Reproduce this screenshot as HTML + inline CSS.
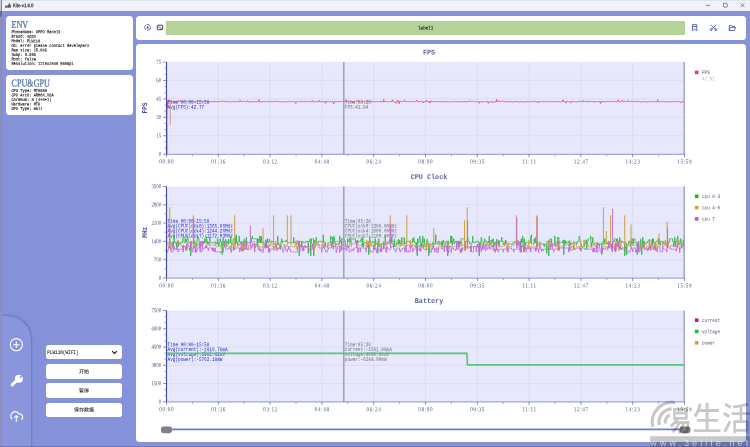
<!DOCTYPE html>
<html lang="zh-CN">
<head>
<meta charset="utf-8">
<title>Kite-v1.6.0</title>
<style>
html,body{margin:0;padding:0;}
body{width:750px;height:447px;overflow:hidden;background:#8591d8;position:relative;font-family:"Liberation Mono","Noto Sans CJK SC",monospace;}
.abs{position:absolute;}
#titlebar{left:0;top:0;width:750px;height:11px;background:#eff3f9;}
#titlebar .edge{left:0;top:0;width:750px;height:1.2px;background:#dfe3ea;}
.card{background:#fff;border-radius:3.5px;}
#env{left:5.8px;top:16px;width:126.9px;height:54.1px;}
#cpu{left:5.8px;top:74.7px;width:126.9px;height:40.4px;}
#toolbar{left:136.2px;top:16px;width:609.9px;height:23.8px;}
#main{left:136.2px;top:44.1px;width:609.9px;height:397.9px;}
#labelbar{left:166.3px;top:21px;width:518.4px;height:13.9px;background:#b3d398;}
#nav{left:-2px;top:315.8px;width:33.4px;height:140px;background:#8a96dc;border-top-right-radius:24px;box-shadow:0.3px -0.3px 1.8px rgba(60,70,165,0.34);}
#leftedge{left:0;top:0;width:1.6px;height:447px;background:linear-gradient(#cfd1da 0,#c4c6d0 11px,#6a6c96 11px,#6a6c96 16px,#8d8fba 17px,#8d8fba 100%);}
.btn{left:45.8px;width:76.5px;height:14.5px;background:#fff;border-radius:2.8px;}
#dev{height:14.2px;}
#botedge{left:0;top:446.2px;width:750px;height:0.8px;background:rgba(70,75,140,0.35);}
svg{position:absolute;left:0;top:0;}
</style>
</head>
<body>
<div id="titlebar" class="abs"><div class="edge abs"></div></div>
<div id="env" class="card abs"></div>
<div id="cpu" class="card abs"></div>
<div id="nav" class="abs"></div>
<div id="leftedge" class="abs"></div>
<div id="botedge" class="abs"></div>
<div id="dev" class="btn abs" style="top:345.1px"></div>
<div class="btn abs" style="top:364.2px"></div>
<div class="btn abs" style="top:383.4px"></div>
<div class="btn abs" style="top:402.5px"></div>
<div id="toolbar" class="card abs"></div>
<div id="labelbar" class="abs"></div>
<div id="main" class="card abs"></div>
<svg id="overlay" width="750" height="447" viewBox="0 0 750 447" font-family="Liberation Mono, Noto Sans CJK SC, monospace">
<!-- title bar -->
<g id="appicon"><path d="M7.4 7.2 L9.5 2.4 L11.2 7.2 Z" fill="#5c4c22"/><path d="M8.3 5 L9.5 2.6 L10.4 5 Z" fill="#a08a4a"/><path d="M4.9 7.6 L5.6 5.6 L7.4 5.2 L8 6.4 L10.8 6.8 L10.6 7.8 Z" fill="#2f86b4"/><path d="M5 7.4 L5.6 6 L6.8 5.8 L6.6 7.2 Z" fill="#1f5a90"/></g>
<rect x="1.1" y="0" width="0.8" height="11" fill="#6e6e7c"/>
<g stroke="#333" stroke-width="0.55" fill="none"><line x1="706" y1="5.4" x2="710" y2="5.4"/><rect x="723.4" y="3.3" width="3.8" height="3.8" rx="0.6"/><path d="M740.6 3.4 L744.4 7.2 M744.4 3.4 L740.6 7.2"/></g>
<!-- toolbar icons -->
<g fill="none" stroke="#5a62c4" stroke-width="0.95"><circle cx="147.6" cy="27.4" r="2.95" stroke-dasharray="5.2 0.98"/><path d="M146.7 28.3 L147.7 26.2 L148.7 28.3 Z" fill="#2c3488" stroke="#2c3488" stroke-width="0.3"/></g>
<g fill="none" stroke="#3a3a3a" stroke-width="0.95"><rect x="157.3" y="25.2" width="5.4" height="4.5" rx="0.6"/><path d="M158.3 27.2 L159.6 27.2 L162 29.2" stroke-width="0.8"/></g>
<g fill="none" stroke="#4a56a8" stroke-width="0.85" stroke-linejoin="round"><path d="M692.4 24.6 H696.8 V30.6 L694.6 29.1 L692.4 30.6 Z M692.4 26.5 H696.8"/>
<path d="M710.6 24.8 L715.6 29.4 M716.4 24.8 L711.4 29.4"/><circle cx="711.2" cy="29.6" r="1"/><circle cx="715.8" cy="29.6" r="1"/>
<path d="M729.2 25.5 H731.2 L731.9 26.4 H734.6 V27.4 M729.2 25.5 V30.5 H734.4 L735.6 27.4 H730.4 L729.2 30.5"/></g>
<!-- nav icons -->
<g fill="none" stroke="#fff" stroke-width="1.1" stroke-linecap="round"><circle cx="16.3" cy="344.7" r="6.1"/><path d="M13.5 344.7 H19.1 M16.3 341.9 V347.5"/></g>
<g id="wrench"><path d="M12.2 384.9 L17.4 379.8" stroke="#fff" stroke-width="3.1" stroke-linecap="round" fill="none"/><circle cx="18.9" cy="378.7" r="4" fill="#fff"/><path d="M19.9 377.7 L22.4 375.2" stroke="#8a96dc" stroke-width="1.5" fill="none"/></g>
<g fill="none" stroke="#fff" stroke-width="1.1" stroke-linecap="round" stroke-linejoin="round"><path d="M11.8 418.9 A4.4 4.4 0 1 1 19 413.9 A3.1 3.1 0 0 1 21.4 419.4"/><path d="M16.3 421.5 V415.7 M14.5 417.4 L16.3 415.6 L18.1 417.4"/></g>
<path d="M112.4 351.4 L114.5 353.5 L116.6 351.4" fill="none" stroke="#2a2a2a" stroke-width="1.2" stroke-linecap="round" stroke-linejoin="round"/>
<g id="uitext">
<text transform="translate(12.9,7.35) rotate(0.05) scale(0.865,1.04)" font-size="5" fill="#0c0c0c" font-family="Liberation Sans, Noto Sans CJK SC, sans-serif" stroke="#0c0c0c" stroke-width="0.14">Kite-v1.6.0</text>
<text transform="translate(11.5,27.9) rotate(0.05) scale(0.77,1)" font-size="10.6" fill="#456aa6" font-family="Liberation Serif, Noto Serif CJK SC, serif" stroke="#456aa6" stroke-width="0.2">ENV</text>
<text transform="translate(11.4,33.3) rotate(0.05) scale(1,1.2)" font-size="3.72" fill="#0a0a0a" stroke="#0a0a0a" stroke-width="0.09">PhoneName: OPPO Reno13</text>
<text transform="translate(11.4,37.83) rotate(0.05) scale(1,1.2)" font-size="3.72" fill="#0a0a0a" stroke="#0a0a0a" stroke-width="0.09">Brand: oppo</text>
<text transform="translate(11.4,42.36) rotate(0.05) scale(1,1.2)" font-size="3.72" fill="#0a0a0a" stroke="#0a0a0a" stroke-width="0.09">Model: PLW110</text>
<text transform="translate(11.4,46.89) rotate(0.05) scale(1,1.2)" font-size="3.72" fill="#0a0a0a" stroke="#0a0a0a" stroke-width="0.09">OS: error please contact developers</text>
<text transform="translate(11.4,51.42) rotate(0.05) scale(1,1.2)" font-size="3.72" fill="#0a0a0a" stroke="#0a0a0a" stroke-width="0.09">Ram size: 15.04G</text>
<text transform="translate(11.4,55.95) rotate(0.05) scale(1,1.2)" font-size="3.72" fill="#0a0a0a" stroke="#0a0a0a" stroke-width="0.09">Swap: 9.96G</text>
<text transform="translate(11.4,60.48) rotate(0.05) scale(1,1.2)" font-size="3.72" fill="#0a0a0a" stroke="#0a0a0a" stroke-width="0.09">Root: false</text>
<text transform="translate(11.4,65.01) rotate(0.05) scale(1,1.2)" font-size="3.72" fill="#0a0a0a" stroke="#0a0a0a" stroke-width="0.09">Resolution: 1216x2640 560dpi</text>
<text transform="translate(11.5,86.6) rotate(0.05) scale(0.77,1)" font-size="10.6" fill="#456aa6" font-family="Liberation Serif, Noto Serif CJK SC, serif" stroke="#456aa6" stroke-width="0.2">CPU&amp;GPU</text>
<text transform="translate(11.4,91.9) rotate(0.05) scale(1,1.2)" font-size="3.72" fill="#0a0a0a" stroke="#0a0a0a" stroke-width="0.09">CPU Type: MT6899</text>
<text transform="translate(11.4,96.43) rotate(0.05) scale(1,1.2)" font-size="3.72" fill="#0a0a0a" stroke="#0a0a0a" stroke-width="0.09">CPU Arch: ARM64_V8A</text>
<text transform="translate(11.4,100.96) rotate(0.05) scale(1,1.2)" font-size="3.72" fill="#0a0a0a" stroke="#0a0a0a" stroke-width="0.09">CoreNum: 8 (4+3+1)</text>
<text transform="translate(11.4,105.49) rotate(0.05) scale(1,1.2)" font-size="3.72" fill="#0a0a0a" stroke="#0a0a0a" stroke-width="0.09">Hardware: MTK</text>
<text transform="translate(11.4,110.02) rotate(0.05) scale(1,1.2)" font-size="3.72" fill="#0a0a0a" stroke="#0a0a0a" stroke-width="0.09">GPU Type: mali</text>
<text transform="translate(425.7,29.6) rotate(0.05) scale(1,1.2)" font-size="4.3" fill="#1a1a1a" text-anchor="middle" stroke="#1a1a1a" stroke-width="0.12">label1</text>
<text transform="translate(47.2,354.1) rotate(0.05) scale(1,1.25)" font-size="4.36" fill="#222" stroke="#222" stroke-width="0.08">PLW110(WIFI)</text>
<text transform="translate(84.1,373.3) rotate(0.05) scale(1,1)" font-size="5.0" fill="#1c1c1c" text-anchor="middle" font-weight="500" font-family="Liberation Sans, Noto Sans CJK SC, sans-serif">开始</text>
<text transform="translate(84.1,392.5) rotate(0.05) scale(1,1)" font-size="5.0" fill="#1c1c1c" text-anchor="middle" font-weight="500" font-family="Liberation Sans, Noto Sans CJK SC, sans-serif">暂停</text>
<text transform="translate(84.1,411.6) rotate(0.05) scale(1,1)" font-size="5.0" fill="#1c1c1c" text-anchor="middle" font-weight="500" font-family="Liberation Sans, Noto Sans CJK SC, sans-serif">保存数据</text>
</g>
<g id="charts">
<rect x="166.5" y="62.0" width="518.0" height="92.2" fill="#e7e8fc"/>
<line x1="218.3" y1="62.0" x2="218.3" y2="154.2" stroke="#d3d5ec" stroke-width="0.6"/>
<line x1="270.1" y1="62.0" x2="270.1" y2="154.2" stroke="#d3d5ec" stroke-width="0.6"/>
<line x1="321.9" y1="62.0" x2="321.9" y2="154.2" stroke="#d3d5ec" stroke-width="0.6"/>
<line x1="373.7" y1="62.0" x2="373.7" y2="154.2" stroke="#d3d5ec" stroke-width="0.6"/>
<line x1="425.5" y1="62.0" x2="425.5" y2="154.2" stroke="#d3d5ec" stroke-width="0.6"/>
<line x1="477.3" y1="62.0" x2="477.3" y2="154.2" stroke="#d3d5ec" stroke-width="0.6"/>
<line x1="529.1" y1="62.0" x2="529.1" y2="154.2" stroke="#d3d5ec" stroke-width="0.6"/>
<line x1="580.9" y1="62.0" x2="580.9" y2="154.2" stroke="#d3d5ec" stroke-width="0.6"/>
<line x1="632.7" y1="62.0" x2="632.7" y2="154.2" stroke="#d3d5ec" stroke-width="0.6"/>
<line x1="166.5" y1="80.44" x2="684.5" y2="80.44" stroke="#d3d5ec" stroke-width="0.6"/>
<line x1="166.5" y1="98.88" x2="684.5" y2="98.88" stroke="#d3d5ec" stroke-width="0.6"/>
<line x1="166.5" y1="117.32" x2="684.5" y2="117.32" stroke="#d3d5ec" stroke-width="0.6"/>
<line x1="166.5" y1="135.76" x2="684.5" y2="135.76" stroke="#d3d5ec" stroke-width="0.6"/>
<rect x="166.5" y="186.5" width="518.0" height="91.5" fill="#e7e8fc"/>
<line x1="218.3" y1="186.5" x2="218.3" y2="278.0" stroke="#d3d5ec" stroke-width="0.6"/>
<line x1="270.1" y1="186.5" x2="270.1" y2="278.0" stroke="#d3d5ec" stroke-width="0.6"/>
<line x1="321.9" y1="186.5" x2="321.9" y2="278.0" stroke="#d3d5ec" stroke-width="0.6"/>
<line x1="373.7" y1="186.5" x2="373.7" y2="278.0" stroke="#d3d5ec" stroke-width="0.6"/>
<line x1="425.5" y1="186.5" x2="425.5" y2="278.0" stroke="#d3d5ec" stroke-width="0.6"/>
<line x1="477.3" y1="186.5" x2="477.3" y2="278.0" stroke="#d3d5ec" stroke-width="0.6"/>
<line x1="529.1" y1="186.5" x2="529.1" y2="278.0" stroke="#d3d5ec" stroke-width="0.6"/>
<line x1="580.9" y1="186.5" x2="580.9" y2="278.0" stroke="#d3d5ec" stroke-width="0.6"/>
<line x1="632.7" y1="186.5" x2="632.7" y2="278.0" stroke="#d3d5ec" stroke-width="0.6"/>
<line x1="166.5" y1="204.8" x2="684.5" y2="204.8" stroke="#d3d5ec" stroke-width="0.6"/>
<line x1="166.5" y1="223.1" x2="684.5" y2="223.1" stroke="#d3d5ec" stroke-width="0.6"/>
<line x1="166.5" y1="241.4" x2="684.5" y2="241.4" stroke="#d3d5ec" stroke-width="0.6"/>
<line x1="166.5" y1="259.7" x2="684.5" y2="259.7" stroke="#d3d5ec" stroke-width="0.6"/>
<rect x="166.5" y="310.5" width="518.0" height="91.3" fill="#e7e8fc"/>
<line x1="218.3" y1="310.5" x2="218.3" y2="401.8" stroke="#d3d5ec" stroke-width="0.6"/>
<line x1="270.1" y1="310.5" x2="270.1" y2="401.8" stroke="#d3d5ec" stroke-width="0.6"/>
<line x1="321.9" y1="310.5" x2="321.9" y2="401.8" stroke="#d3d5ec" stroke-width="0.6"/>
<line x1="373.7" y1="310.5" x2="373.7" y2="401.8" stroke="#d3d5ec" stroke-width="0.6"/>
<line x1="425.5" y1="310.5" x2="425.5" y2="401.8" stroke="#d3d5ec" stroke-width="0.6"/>
<line x1="477.3" y1="310.5" x2="477.3" y2="401.8" stroke="#d3d5ec" stroke-width="0.6"/>
<line x1="529.1" y1="310.5" x2="529.1" y2="401.8" stroke="#d3d5ec" stroke-width="0.6"/>
<line x1="580.9" y1="310.5" x2="580.9" y2="401.8" stroke="#d3d5ec" stroke-width="0.6"/>
<line x1="632.7" y1="310.5" x2="632.7" y2="401.8" stroke="#d3d5ec" stroke-width="0.6"/>
<line x1="166.5" y1="328.76" x2="684.5" y2="328.76" stroke="#d3d5ec" stroke-width="0.6"/>
<line x1="166.5" y1="347.02" x2="684.5" y2="347.02" stroke="#d3d5ec" stroke-width="0.6"/>
<line x1="166.5" y1="365.28" x2="684.5" y2="365.28" stroke="#d3d5ec" stroke-width="0.6"/>
<line x1="166.5" y1="383.54" x2="684.5" y2="383.54" stroke="#d3d5ec" stroke-width="0.6"/>
<text transform="translate(167.6,103.7) rotate(0.05) scale(1,1.27)" font-size="4.35" fill="#2a2ad0">Time 00:00-15:58</text>
<text transform="translate(167.6,108.8) rotate(0.05) scale(1,1.27)" font-size="4.35" fill="#2a2ad0">Avg(FPS):42.77</text>
<text transform="translate(344.8,103.7) rotate(0.05) scale(1,1.27)" font-size="4.35" fill="#707078">Time:05:28</text>
<text transform="translate(344.8,108.8) rotate(0.05) scale(1,1.27)" font-size="4.35" fill="#707078">FPS:41.94</text>
<text transform="translate(167.6,222.7) rotate(0.05) scale(1,1.27)" font-size="4.35" fill="#2a2ad0">Time 00:00-15:58</text>
<text transform="translate(167.6,227.6) rotate(0.05) scale(1,1.27)" font-size="4.35" fill="#2a2ad0">Avg(CPUClock0):1365.66MHz</text>
<text transform="translate(167.6,232.5) rotate(0.05) scale(1,1.27)" font-size="4.35" fill="#2a2ad0">Avg(CPUClock4):1244.26MHz</text>
<text transform="translate(167.6,237.4) rotate(0.05) scale(1,1.27)" font-size="4.35" fill="#2a2ad0">Avg(CPUClock7):1172.03MHz</text>
<text transform="translate(344.8,222.7) rotate(0.05) scale(1,1.27)" font-size="4.35" fill="#707078">Time:05:28</text>
<text transform="translate(344.8,227.6) rotate(0.05) scale(1,1.27)" font-size="4.35" fill="#707078">CPUClock0:1300.00MHz</text>
<text transform="translate(344.8,232.5) rotate(0.05) scale(1,1.27)" font-size="4.35" fill="#707078">CPUClock4:1000.00MHz</text>
<text transform="translate(344.8,237.4) rotate(0.05) scale(1,1.27)" font-size="4.35" fill="#707078">CPUClock7:1100.00MHz</text>
<text transform="translate(167.6,346.2) rotate(0.05) scale(1,1.27)" font-size="4.35" fill="#2a2ad0">Time 00:00-15:58</text>
<text transform="translate(167.6,351.1) rotate(0.05) scale(1,1.27)" font-size="4.35" fill="#2a2ad0">Avg(current):-1616.76mA</text>
<text transform="translate(167.6,356) rotate(0.05) scale(1,1.27)" font-size="4.35" fill="#2a2ad0">Avg(voltage):3981.42mV</text>
<text transform="translate(167.6,360.9) rotate(0.05) scale(1,1.27)" font-size="4.35" fill="#2a2ad0">Avg(power):-5762.18mW</text>
<text transform="translate(344.8,346.2) rotate(0.05) scale(1,1.27)" font-size="4.35" fill="#707078">Time:05:28</text>
<text transform="translate(344.8,351.1) rotate(0.05) scale(1,1.27)" font-size="4.35" fill="#707078">current:-1561.00mA</text>
<text transform="translate(344.8,356) rotate(0.05) scale(1,1.27)" font-size="4.35" fill="#707078">voltage:4000.00mV</text>
<text transform="translate(344.8,360.9) rotate(0.05) scale(1,1.27)" font-size="4.35" fill="#707078">power:-6244.00mW</text>
<g id="fps">
<polyline points="166.7,154.2 166.7,129.61 167.2,101.34 167.6,107.49 168.1,100.11 168.7,101.96 169.25,101.96 169.8,99.94 170.35,102.26 170.9,101.5 171.45,101.6 172,101.74 172.55,101.56 173.1,101.79 173.65,101.55 174.2,101.64 174.75,101.75 175.3,103.09 175.85,101.11 176.4,101.53 176.95,101.44 177.5,101.77 178.05,101.77 178.6,100.24 179.15,101.7 179.7,101.44 180.25,100.51 180.8,101.79 181.35,101.46 181.9,101.81 182.45,101.62 183,101.4 183.55,101.73 184.1,101.88 184.65,101.52 185.2,101.75 185.75,102.01 186.3,101.63 186.85,101.15 187.4,101.49 187.95,101.77 188.5,101.6 189.05,101.9 189.6,101.46 190.15,101.67 190.7,101.52 191.25,101.47 191.8,101.74 192.35,101.86 192.9,101.69 193.45,101.87 194,101.33 194.55,101.47 195.1,101.66 195.65,101.89 196.2,101.19 196.75,101.05 197.3,101.74 197.85,101.49 198.4,101.26 198.95,101.22 199.5,101.71 200.05,101.58 200.6,101.31 201.15,101.82 201.7,101.25 202.25,101.75 202.8,102.22 203.35,101.54 203.9,101.81 204.45,101.68 205,101.51 205.55,101.36 206.1,101.74 206.65,101.65 207.2,101.71 207.75,101.68 208.3,101.9 208.85,102.09 209.4,101.79 209.95,102.31 210.5,101.46 211.05,101.89 211.6,101.68 212.15,101.43 212.7,101.78 213.25,101.48 213.8,102.16 214.35,101.31 214.9,101.89 215.45,101.57 216,101.47 216.55,101.67 217.1,101.67 217.65,101.54 218.2,102.12 218.75,102.07 219.3,101.76 219.85,101.32 220.4,101.47 220.95,101.65 221.5,101.45 222.05,101.23 222.6,100.89 223.15,101.71 223.7,101.1 224.25,101.19 224.8,101.86 225.35,101.52 225.9,101.52 226.45,101.23 227,101.14 227.55,101.8 228.1,102.31 228.65,101.85 229.2,101.74 229.75,101.33 230.3,101.73 230.85,101.53 231.4,101.94 231.95,101.72 232.5,101.82 233.05,101.62 233.6,101.47 234.15,102 234.7,101.35 235.25,101.81 235.8,101.91 236.35,101.76 236.9,102.07 237.45,101.59 238,101.45 238.55,101.34 239.1,101.65 239.65,101.59 240.2,100.29 240.75,101.71 241.3,101.47 241.85,101.44 242.4,101.63 242.95,101.34 243.5,101.41 244.05,102.01 244.6,101.32 245.15,101.66 245.7,101.61 246.25,101.68 246.8,101.74 247.35,100.67 247.9,101.66 248.45,102.01 249,102.23 249.55,101.48 250.1,101.18 250.65,101.6 251.2,101.75 251.75,102.02 252.3,101.85 252.85,101.47 253.4,101.79 253.95,101.16 254.5,101.74 255.05,101.92 255.6,101.52 256.15,101.73 256.7,101.89 257.25,101.64 257.8,101.61 258.35,101.74 258.9,99.6 259.45,102.03 260,101.67 260.55,101.73 261.1,102.05 261.65,102.17 262.2,101.81 262.75,101.06 263.3,101.78 263.85,101.56 264.4,101.44 264.95,101.48 265.5,102.04 266.05,101.85 266.6,101.86 267.15,101.55 267.7,101.4 268.25,101.74 268.8,101.42 269.35,101.34 269.9,102 270.45,101.77 271,101.66 271.55,101.2 272.1,101.62 272.65,101.39 273.2,101.74 273.75,102.03 274.3,101.53 274.85,101.57 275.4,101.42 275.95,101.86 276.5,101.22 277.05,101.57 277.6,101.26 278.15,101.77 278.7,101.25 279.25,101.71 279.8,101.83 280.35,101.82 280.9,101.84 281.45,101.81 282,101.46 282.55,101.99 283.1,101.45 283.65,101.91 284.2,101.66 284.75,101.92 285.3,101.62 285.85,101.57 286.4,101.65 286.95,101.65 287.5,101.86 288.05,101.84 288.6,101.56 289.15,101.51 289.7,101.53 290.25,101.75 290.8,101.53 291.35,101.46 291.9,101.04 292.45,101.52 293,101.8 293.55,102.02 294.1,101.35 294.65,101.37 295.2,101.67 295.75,103.44 296.3,102.09 296.85,102.05 297.4,101.54 297.95,101.41 298.5,102.1 299.05,101.55 299.6,101.29 300.15,101.55 300.7,101.93 301.25,101.58 301.8,101.14 302.35,101.54 302.9,101.25 303.45,101.81 304,101.39 304.55,101.48 305.1,102.12 305.65,101.64 306.2,102.01 306.75,101.52 307.3,101.5 307.85,101.25 308.4,101.58 308.95,101.03 309.5,101.49 310.05,101.66 310.6,101.85 311.15,101.85 311.7,101.61 312.25,100.31 312.8,100.8 313.35,102.33 313.9,102.11 314.45,101.6 315,101.42 315.55,101.4 316.1,101.43 316.65,102.32 317.2,101.85 317.75,101.64 318.3,101.23 318.85,102.02 319.4,100.36 319.95,101.33 320.5,101.91 321.05,101.78 321.6,101.23 322.15,101.77 322.7,101.55 323.25,101.89 323.8,101.54 324.35,101.46 324.9,101.22 325.45,103.4 326,101.51 326.55,101.9 327.1,101.32 327.65,101.61 328.2,101.75 328.75,101.52 329.3,101.43 329.85,101.67 330.4,101.36 330.95,101.28 331.5,101.79 332.05,101.39 332.6,101.61 333.15,101.57 333.7,103.74 334.25,101.59 334.8,100.94 335.35,101.4 335.9,102.2 336.45,101.58 337,101.68 337.55,101.47 338.1,101.64 338.65,101.85 339.2,101.13 339.75,101.7 340.3,101.77 340.85,101.56 341.4,101.49 341.95,101.61 342.5,101.5 343.05,101.75 343.6,101.87 344.15,102.14 344.7,101.67 345.25,101.62 345.8,101.54 346.35,99.91 346.9,101.99 347.45,101.65 348,101.56 348.55,101.99 349.1,101.5 349.65,101.59 350.2,101.19 350.75,101.59 351.3,101.19 351.85,101.57 352.4,101.39 352.95,102.8 353.5,101.64 354.05,102.05 354.6,101.84 355.15,102.12 355.7,101.56 356.25,101.33 356.8,101.31 357.35,100.34 357.9,101.64 358.45,101.98 359,101.75 359.55,101.43 360.1,101.94 360.65,102.37 361.2,101.78 361.75,101.18 362.3,101.54 362.85,101.68 363.4,101.84 363.95,101.94 364.5,101.91 365.05,101.72 365.6,101.81 366.15,101.76 366.7,101.46 367.25,101.8 367.8,101.74 368.35,101.32 368.9,101.7 369.45,101.53 370,101.05 370.55,101.34 371.1,101.49 371.65,101.57 372.2,101.18 372.75,101.98 373.3,101.64 373.85,101.66 374.4,101.78 374.95,101.42 375.5,101.87 376.05,101.56 376.6,101.38 377.15,101.86 377.7,101.47 378.25,101.83 378.8,101.72 379.35,101.5 379.9,101.63 380.45,101.85 381,100.89 381.55,101.62 382.1,101.38 382.65,101.64 383.2,102.28 383.75,99.64 384.3,101.64 384.85,101.82 385.4,101.32 385.95,101.86 386.5,101.43 387.05,101.47 387.6,101.82 388.15,101.57 388.7,101.67 389.25,101.8 389.8,101.8 390.35,101.58 390.9,101.64 391.45,101.35 392,101.58 392.55,99.86 393.1,101.57 393.65,101.73 394.2,101.63 394.75,101.69 395.3,102.07 395.85,103.32 396.4,101.59 396.95,101.93 397.5,101.88 398.05,100.17 398.6,101.52 399.15,103.76 399.7,101.36 400.25,101.27 400.8,101.46 401.35,101.65 401.9,101.86 402.45,101.6 403,101.5 403.55,101.38 404.1,101.2 404.65,100.06 405.2,101.77 405.75,101.73 406.3,101.58 406.85,101.67 407.4,101.69 407.95,101.2 408.5,101.46 409.05,101.38 409.6,101.54 410.15,101.58 410.7,101.86 411.25,101.42 411.8,101.63 412.35,101.3 412.9,101.66 413.45,101.79 414,101.18 414.55,101.62 415.1,102.01 415.65,101.95 416.2,101.39 416.75,100.17 417.3,101.54 417.85,101.56 418.4,101.7 418.95,101.29 419.5,102.02 420.05,101.28 420.6,101.7 421.15,101.72 421.7,101.38 422.25,101.46 422.8,101.9 423.35,103.02 423.9,101.22 424.45,101.53 425,101.82 425.55,101.47 426.1,101.56 426.65,100.17 427.2,101.79 427.75,101.79 428.3,102.18 428.85,101.43 429.4,101.23 429.95,103.17 430.5,101.96 431.05,100.81 431.6,101.71 432.15,102.01 432.7,101.52 433.25,101.69 433.8,101.56 434.35,101.59 434.9,101.31 435.45,101.92 436,101.57 436.55,101.76 437.1,101.65 437.65,101.63 438.2,101.4 438.75,101.82 439.3,101.7 439.85,100.99 440.4,101.71 440.95,101.56 441.5,101.74 442.05,101.78 442.6,101.76 443.15,101.92 443.7,101.52 444.25,101.48 444.8,101.37 445.35,101.85 445.9,101.54 446.45,102.15 447,101.66 447.55,101.39 448.1,101.91 448.65,101.93 449.2,101.62 449.75,101.89 450.3,101.45 450.85,101.94 451.4,101.93 451.95,101.39 452.5,101.85 453.05,101.51 453.6,101.7 454.15,101.92 454.7,101.7 455.25,101.48 455.8,101.39 456.35,101.84 456.9,101.64 457.45,101.58 458,101.39 458.55,101.44 459.1,101.77 459.65,101.62 460.2,101.76 460.75,101.67 461.3,101.85 461.85,101.56 462.4,101.81 462.95,101.56 463.5,101.93 464.05,101.39 464.6,101.52 465.15,101.95 465.7,101.37 466.25,101.76 466.8,101.93 467.35,101.79 467.9,101.66 468.45,101.34 469,101.52 469.55,101.51 470.1,100.9 470.65,101.08 471.2,101.4 471.75,101.49 472.3,101.43 472.85,101.29 473.4,101.65 473.95,101.39 474.5,101.32 475.05,101.33 475.6,101.85 476.15,101.89 476.7,101.69 477.25,101.41 477.8,101.89 478.35,101.51 478.9,101.9 479.45,103.31 480,101.41 480.55,101.96 481.1,101.76 481.65,101.87 482.2,101.74 482.75,102.01 483.3,101.66 483.85,101.65 484.4,101.6 484.95,101.71 485.5,101.51 486.05,101.52 486.6,101.61 487.15,101.14 487.7,101.77 488.25,103.36 488.8,101.66 489.35,101.97 489.9,101.67 490.45,101.91 491,102.03 491.55,101.51 492.1,101.56 492.65,102.86 493.2,101.93 493.75,101.57 494.3,101.71 494.85,101.65 495.4,102.01 495.95,102.01 496.5,99.47 497.05,101.95 497.6,101.42 498.15,101.55 498.7,100.44 499.25,101.54 499.8,101.46 500.35,101.84 500.9,101.78 501.45,101.53 502,101.23 502.55,101.1 503.1,101.52 503.65,101.25 504.2,101.48 504.75,101.54 505.3,101.39 505.85,102.16 506.4,101.69 506.95,102.08 507.5,101.76 508.05,102.18 508.6,101.49 509.15,101.68 509.7,102.1 510.25,101.44 510.8,102.05 511.35,101.76 511.9,101.74 512.45,101.93 513,101.73 513.55,102.2 514.1,101.21 514.65,101.68 515.2,101.68 515.75,101.3 516.3,101.37 516.85,101.7 517.4,101.6 517.95,101.65 518.5,102.11 519.05,101.69 519.6,101.78 520.15,101.84 520.7,101.53 521.25,101.42 521.8,101.97 522.35,101.99 522.9,101.6 523.45,102.19 524,102.2 524.55,101.6 525.1,101.98 525.65,101.47 526.2,102.2 526.75,101.7 527.3,101.41 527.85,101.53 528.4,101.85 528.95,101.85 529.5,101.72 530.05,101.55 530.6,101.72 531.15,101.64 531.7,101.32 532.25,101.8 532.8,102.2 533.35,101.5 533.9,101.38 534.45,101.47 535,101.5 535.55,101.23 536.1,101.43 536.65,101.55 537.2,102.21 537.75,103.05 538.3,101.52 538.85,101.61 539.4,101.54 539.95,101.6 540.5,101.69 541.05,101.71 541.6,101.85 542.15,101.28 542.7,101.44 543.25,101.96 543.8,101.88 544.35,101.61 544.9,101.45 545.45,101.82 546,101.4 546.55,101.74 547.1,101.34 547.65,101.32 548.2,101.68 548.75,101.48 549.3,101.82 549.85,101.53 550.4,101.87 550.95,101.84 551.5,101.48 552.05,102.01 552.6,101.93 553.15,101.8 553.7,101.73 554.25,101.42 554.8,101.57 555.35,101.68 555.9,101.73 556.45,101.66 557,101.6 557.55,101.83 558.1,101.52 558.65,101.52 559.2,101.64 559.75,101.55 560.3,101.68 560.85,102.25 561.4,101.65 561.95,101.48 562.5,101.45 563.05,99.82 563.6,101.64 564.15,101.56 564.7,101.47 565.25,101.71 565.8,103.16 566.35,101.61 566.9,101.64 567.45,101.39 568,101.41 568.55,102.03 569.1,101.83 569.65,101.5 570.2,101.59 570.75,103.07 571.3,101.42 571.85,101.64 572.4,101.83 572.95,101.95 573.5,101.48 574.05,101.06 574.6,101.77 575.15,102.07 575.7,101.93 576.25,101.95 576.8,101.98 577.35,101.57 577.9,101.82 578.45,101.39 579,101.76 579.55,101.32 580.1,101.73 580.65,101.44 581.2,101.74 581.75,101.76 582.3,101.6 582.85,100.37 583.4,101.82 583.95,101.7 584.5,101.55 585.05,101.84 585.6,101.49 586.15,101.51 586.7,101.55 587.25,101.89 587.8,102.24 588.35,101.18 588.9,101.01 589.45,101.7 590,101.94 590.55,101.43 591.1,101.66 591.65,101.33 592.2,101.5 592.75,102.03 593.3,101.4 593.85,102.12 594.4,101.56 594.95,102.03 595.5,101.91 596.05,101.49 596.6,101.53 597.15,101.93 597.7,101.63 598.25,101.45 598.8,101.56 599.35,101.54 599.9,101.67 600.45,103.61 601,101.48 601.55,102.13 602.1,101.09 602.65,101.98 603.2,101.6 603.75,101.98 604.3,101.36 604.85,101.97 605.4,102.04 605.95,101.63 606.5,101.42 607.05,101.71 607.6,101.42 608.15,101.07 608.7,101.57 609.25,101.83 609.8,101.4 610.35,101.83 610.9,101.65 611.45,101.64 612,101.83 612.55,101.22 613.1,101.65 613.65,101.42 614.2,101.4 614.75,101.42 615.3,101.62 615.85,101.77 616.4,102.18 616.95,101.79 617.5,101.09 618.05,99.69 618.6,101.91 619.15,101.69 619.7,101.78 620.25,101.33 620.8,101.82 621.35,101.83 621.9,101.7 622.45,100.07 623,101.36 623.55,101.74 624.1,101.64 624.65,101.36 625.2,101.27 625.75,101.65 626.3,101.8 626.85,101.94 627.4,101.51 627.95,100.31 628.5,101.62 629.05,101.41 629.6,101.46 630.15,101.89 630.7,101.37 631.25,101.87 631.8,101.1 632.35,101.48 632.9,101.38 633.45,101.56 634,101.6 634.55,101.45 635.1,101.52 635.65,101.38 636.2,102.12 636.75,101.62 637.3,101.44 637.85,101.88 638.4,101.41 638.95,101.68 639.5,101.25 640.05,101.82 640.6,101.98 641.15,102.14 641.7,101.79 642.25,101.44 642.8,101.91 643.35,101.67 643.9,101.3 644.45,101.76 645,101.1 645.55,101.54 646.1,101.68 646.65,102.1 647.2,101.7 647.75,101.93 648.3,101.59 648.85,101.6 649.4,101.81 649.95,101.42 650.5,101.81 651.05,101.64 651.6,101.36 652.15,101.56 652.7,101.79 653.25,101.47 653.8,101.96 654.35,101.65 654.9,101.37 655.45,101.74 656,101.91 656.55,101.9 657.1,101.55 657.65,99.71 658.2,101.58 658.75,102.17 659.3,101.26 659.85,101.79 660.4,102.04 660.95,101.71 661.5,101.41 662.05,101.67 662.6,101.77 663.15,101.55 663.7,101.37 664.25,101.65 664.8,101.67 665.35,101.58 665.9,102.01 666.45,101.94 667,101.61 667.55,101.75 668.1,101.72 668.65,101.75 669.2,101.59 669.75,101.7 670.3,101.76 670.85,101.82 671.4,101.56 671.95,102.02 672.5,101.73 673.05,101.95 673.6,101.72 674.15,101.27 674.7,101.52 675.25,101.6 675.8,101.4 676.35,101.8 676.9,101.38 677.45,101.45 678,101.82 678.55,101.96 679.1,101.78 679.65,101.64 680.2,101.91 680.75,102.96 681.3,101.82 681.85,101.53 682.4,101.49 682.95,101.61 683.5,101.82 684.05,101.91" fill="none" stroke="#e03a58" stroke-width="0.72"/>
<line x1="170.3" y1="101.95" x2="170.3" y2="124.7" stroke="#e25a78" stroke-width="0.8" stroke-opacity="0.85"/>
<line x1="166.8" y1="124.7" x2="166.8" y2="154.2" stroke="#8a3aa0" stroke-width="0.7"/>
</g>
<g id="cpu" stroke-linejoin="miter">
<polyline points="166.5,242.71 167,242.71 167.5,242.71 168,242.71 168.5,242.71 169,242.71 169.5,242.71 170,242.71 170.5,242.71 171,242.71 171.5,242.71 172,242.71 172.5,242.71 172.5,246.63 173,246.63 173,242.71 173.5,242.71 174,242.71 174,236.17 174.5,236.17 174.5,242.71 175,242.71 175.5,242.71 176,242.71 176,245.32 176.5,245.32 176.5,242.71 177,242.71 177,241.4 177.5,241.4 177.5,246.63 178,246.63 178.5,246.63 178.5,242.71 179,242.71 179.5,242.71 179.5,244.01 180,244.01 180,242.71 180.5,242.71 181,242.71 181.5,242.71 182,242.71 182.5,242.71 182.5,239.31 183,239.31 183,237.48 183.5,237.48 183.5,236.17 184,236.17 184,242.71 184.5,242.71 185,242.71 185.5,242.71 185.5,238.79 186,238.79 186,241.4 186.5,241.4 186.5,239.31 187,239.31 187.5,239.31 187.5,236.17 188,236.17 188,242.71 188.5,242.71 189,242.71 189.5,242.71 190,242.71 190.5,242.71 190.5,255.78 191,255.78 191,242.71 191.5,242.71 192,242.71 192.5,242.71 193,242.71 193.5,242.71 193.5,240.09 194,240.09 194,242.71 194.5,242.71 195,242.71 195,244.01 195.5,244.01 196,244.01 196.5,244.01 196.5,246.63 197,246.63 197,238.79 197.5,238.79 197.5,236.17 198,236.17 198,238.79 198.5,238.79 199,238.79 199,242.71 199.5,242.71 199.5,246.63 200,246.63 200.5,246.63 200.5,244.01 201,244.01 201.5,244.01 202,244.01 202.5,244.01 203,244.01 203.5,244.01 203.5,241.4 204,241.4 204,242.71 204.5,242.71 204.5,238.79 205,238.79 205,242.71 205.5,242.71 205.5,241.4 206,241.4 206,236.17 206.5,236.17 206.5,239.31 207,239.31 207,244.01 207.5,244.01 207.5,241.4 208,241.4 208,244.01 208.5,244.01 208.5,242.71 209,242.71 209.5,242.71 209.5,237.48 210,237.48 210,242.71 210.5,242.71 211,242.71 211.5,242.71 212,242.71 212.5,242.71 213,242.71 213.5,242.71 214,242.71 214.5,242.71 215,242.71 215.5,242.71 216,242.71 216.5,242.71 216.5,244.01 217,244.01 217.5,244.01 217.5,238.79 218,238.79 218,242.71 218.5,242.71 218.5,246.63 219,246.63 219,244.01 219.5,244.01 219.5,242.71 220,242.71 220,238.79 220.5,238.79 220.5,241.4 221,241.4 221.5,241.4 221.5,246.63 222,246.63 222,254.47 222.5,254.47 222.5,242.71 223,242.71 223,237.48 223.5,237.48 223.5,241.4 224,241.4 224,245.32 224.5,245.32 224.5,241.4 225,241.4 225.5,241.4 225.5,239.31 226,239.31 226,246.63 226.5,246.63 226.5,241.4 227,241.4 227.5,241.4 227.5,242.71 228,242.71 228,244.01 228.5,244.01 228.5,239.31 229,239.31 229,242.71 229.5,242.71 230,242.71 230.5,242.71 230.5,236.17 231,236.17 231,242.71 231.5,242.71 231.5,244.01 232,244.01 232.5,244.01 233,244.01 233,239.31 233.5,239.31 233.5,238.79 234,238.79 234.5,238.79 235,238.79 235,237.48 235.5,237.48 235.5,244.01 236,244.01 236,234.86 236.5,234.86 236.5,242.71 237,242.71 237.5,242.71 237.5,245.32 238,245.32 238,241.4 238.5,241.4 239,241.4 239,236.17 239.5,236.17 239.5,241.4 240,241.4 240,242.71 240.5,242.71 241,242.71 241.5,242.71 241.5,241.4 242,241.4 242,244.01 242.5,244.01 243,244.01 243.5,244.01 244,244.01 244,239.31 244.5,239.31 244.5,242.71 245,242.71 245.5,242.71 245.5,245.32 246,245.32 246,237.48 246.5,237.48 246.5,242.71 247,242.71 247.5,242.71 248,242.71 248.5,242.71 249,242.71 249.5,242.71 250,242.71 250.5,242.71 251,242.71 251.5,242.71 251.5,238.79 252,238.79 252,236.17 252.5,236.17 252.5,238.79 253,238.79 253.5,238.79 254,238.79 254.5,238.79 255,238.79 255.5,238.79 256,238.79 256.5,238.79 257,238.79 257,246.63 257.5,246.63 257.5,238.79 258,238.79 258.5,238.79 258.5,242.71 259,242.71 259.5,242.71 259.5,236.17 260,236.17 260,237.48 260.5,237.48 260.5,242.71 261,242.71 261,236.17 261.5,236.17 261.5,242.71 262,242.71 262.5,242.71 263,242.71 263.5,242.71 264,242.71 264,246.63 264.5,246.63 265,246.63 265,242.71 265.5,242.71 265.5,240.09 266,240.09 266,246.63 266.5,246.63 266.5,242.71 267,242.71 267,238.79 267.5,238.79 267.5,242.71 268,242.71 268.5,242.71 269,242.71 269,239.31 269.5,239.31 269.5,241.4 270,241.4 270.5,241.4 271,241.4 271.5,241.4 272,241.4 272.5,241.4 273,241.4 273.5,241.4 273.5,244.01 274,244.01 274.5,244.01 275,244.01 275.5,244.01 275.5,246.63 276,246.63 276,244.01 276.5,244.01 277,244.01 277.5,244.01 277.5,236.17 278,236.17 278,244.01 278.5,244.01 279,244.01 279.5,244.01 280,244.01 280,249.24 280.5,249.24 280.5,244.01 281,244.01 281,241.4 281.5,241.4 281.5,238.79 282,238.79 282,242.71 282.5,242.71 282.5,241.4 283,241.4 283.5,241.4 284,241.4 284.5,241.4 285,241.4 285.5,241.4 286,241.4 286,240.09 286.5,240.09 286.5,241.4 287,241.4 287.5,241.4 287.5,242.71 288,242.71 288.5,242.71 289,242.71 289.5,242.71 290,242.71 290.5,242.71 291,242.71 291.5,242.71 292,242.71 292.5,242.71 293,242.71 293.5,242.71 293.5,237.48 294,237.48 294,242.71 294.5,242.71 295,242.71 295.5,242.71 296,242.71 296.5,242.71 297,242.71 297,244.01 297.5,244.01 298,244.01 298.5,244.01 298.5,241.4 299,241.4 299,255.78 299.5,255.78 299.5,241.4 300,241.4 300.5,241.4 301,241.4 301.5,241.4 301.5,246.63 302,246.63 302,241.4 302.5,241.4 303,241.4 303,242.71 303.5,242.71 304,242.71 304.5,242.71 305,242.71 305.5,242.71 305.5,241.4 306,241.4 306.5,241.4 307,241.4 307.5,241.4 308,241.4 308,253.16 308.5,253.16 308.5,241.4 309,241.4 309.5,241.4 310,241.4 310,238.79 310.5,238.79 310.5,255.78 311,255.78 311,242.71 311.5,242.71 311.5,238.79 312,238.79 312.5,238.79 313,238.79 313.5,238.79 313.5,255.78 314,255.78 314,242.71 314.5,242.71 314.5,240.09 315,240.09 315,242.71 315.5,242.71 315.5,241.4 316,241.4 316,237.48 316.5,237.48 316.5,242.71 317,242.71 317.5,242.71 318,242.71 318.5,242.71 318.5,241.4 319,241.4 319.5,241.4 320,241.4 320.5,241.4 321,241.4 321.5,241.4 322,241.4 322,242.71 322.5,242.71 323,242.71 323,234.86 323.5,234.86 323.5,242.71 324,242.71 324.5,242.71 325,242.71 325.5,242.71 325.5,246.63 326,246.63 326.5,246.63 327,246.63 327.5,246.63 328,246.63 328,242.71 328.5,242.71 329,242.71 329.5,242.71 330,242.71 330.5,242.71 330.5,236.17 331,236.17 331,238.79 331.5,238.79 332,238.79 332,237.48 332.5,237.48 332.5,245.32 333,245.32 333,241.4 333.5,241.4 333.5,236.17 334,236.17 334,237.48 334.5,237.48 334.5,242.71 335,242.71 335,244.01 335.5,244.01 335.5,245.32 336,245.32 336,244.01 336.5,244.01 337,244.01 337.5,244.01 338,244.01 338.5,244.01 339,244.01 339.5,244.01 339.5,236.17 340,236.17 340,240.09 340.5,240.09 340.5,242.71 341,242.71 341.5,242.71 341.5,238.79 342,238.79 342.5,238.79 343,238.79 343.5,238.79 344,238.79 344,240.09 344.5,240.09 344.5,241.4 345,241.4 345.5,241.4 345.5,246.63 346,246.63 346.5,246.63 347,246.63 347.5,246.63 347.5,238.79 348,238.79 348,241.4 348.5,241.4 349,241.4 349.5,241.4 349.5,237.48 350,237.48 350,241.4 350.5,241.4 350.5,242.71 351,242.71 351,238.79 351.5,238.79 352,238.79 352.5,238.79 353,238.79 353.5,238.79 353.5,239.31 354,239.31 354,238.79 354.5,238.79 355,238.79 355.5,238.79 355.5,242.71 356,242.71 356.5,242.71 357,242.71 357,240.09 357.5,240.09 357.5,242.71 358,242.71 358.5,242.71 358.5,241.4 359,241.4 359.5,241.4 360,241.4 360.5,241.4 360.5,240.09 361,240.09 361,238.79 361.5,238.79 362,238.79 362,246.63 362.5,246.63 362.5,237.48 363,237.48 363,246.63 363.5,246.63 363.5,244.01 364,244.01 364,242.71 364.5,242.71 365,242.71 365.5,242.71 366,242.71 366.5,242.71 367,242.71 367.5,242.71 367.5,245.32 368,245.32 368,242.71 368.5,242.71 368.5,254.47 369,254.47 369,241.4 369.5,241.4 369.5,236.17 370,236.17 370,242.71 370.5,242.71 371,242.71 371.5,242.71 372,242.71 372,241.4 372.5,241.4 373,241.4 373,242.71 373.5,242.71 374,242.71 374.5,242.71 374.5,246.63 375,246.63 375,238.79 375.5,238.79 375.5,244.01 376,244.01 376.5,244.01 377,244.01 377,242.71 377.5,242.71 377.5,253.16 378,253.16 378,242.71 378.5,242.71 378.5,238.79 379,238.79 379,246.63 379.5,246.63 380,246.63 380,244.01 380.5,244.01 381,244.01 381.5,244.01 382,244.01 382.5,244.01 383,244.01 383.5,244.01 384,244.01 384.5,244.01 385,244.01 385,236.17 385.5,236.17 385.5,244.01 386,244.01 386.5,244.01 387,244.01 387.5,244.01 388,244.01 388,242.71 388.5,242.71 389,242.71 389.5,242.71 389.5,239.31 390,239.31 390,242.71 390.5,242.71 391,242.71 391.5,242.71 391.5,237.48 392,237.48 392,244.01 392.5,244.01 393,244.01 393.5,244.01 393.5,246.63 394,246.63 394,239.31 394.5,239.31 394.5,246.63 395,246.63 395.5,246.63 396,246.63 396,242.71 396.5,242.71 396.5,244.01 397,244.01 397.5,244.01 398,244.01 398,239.31 398.5,239.31 398.5,244.01 399,244.01 399.5,244.01 399.5,240.09 400,240.09 400,244.01 400.5,244.01 401,244.01 401.5,244.01 401.5,237.48 402,237.48 402,244.01 402.5,244.01 403,244.01 403.5,244.01 404,244.01 404,237.48 404.5,237.48 404.5,244.01 405,244.01 405,242.71 405.5,242.71 406,242.71 406.5,242.71 406.5,241.4 407,241.4 407.5,241.4 408,241.4 408.5,241.4 409,241.4 409.5,241.4 410,241.4 410,242.71 410.5,242.71 411,242.71 411.5,242.71 412,242.71 412.5,242.71 412.5,238.79 413,238.79 413,241.4 413.5,241.4 413.5,237.48 414,237.48 414,241.4 414.5,241.4 414.5,242.71 415,242.71 415.5,242.71 415.5,244.01 416,244.01 416,246.63 416.5,246.63 416.5,242.71 417,242.71 417,255.78 417.5,255.78 417.5,238.79 418,238.79 418,242.71 418.5,242.71 419,242.71 419,238.79 419.5,238.79 419.5,236.17 420,236.17 420,238.79 420.5,238.79 420.5,246.63 421,246.63 421.5,246.63 421.5,242.71 422,242.71 422.5,242.71 422.5,236.17 423,236.17 423,242.71 423.5,242.71 424,242.71 424,238.79 424.5,238.79 424.5,244.01 425,244.01 425,246.63 425.5,246.63 426,246.63 426.5,246.63 426.5,242.71 427,242.71 427,239.31 427.5,239.31 427.5,242.71 428,242.71 428.5,242.71 428.5,255.78 429,255.78 429,251.86 429.5,251.86 429.5,244.01 430,244.01 430.5,244.01 431,244.01 431.5,244.01 432,244.01 432.5,244.01 432.5,242.71 433,242.71 433,246.63 433.5,246.63 433.5,244.01 434,244.01 434.5,244.01 435,244.01 435.5,244.01 435.5,234.86 436,234.86 436,244.01 436.5,244.01 437,244.01 437.5,244.01 438,244.01 438,241.4 438.5,241.4 439,241.4 439,244.01 439.5,244.01 440,244.01 440.5,244.01 441,244.01 441.5,244.01 441.5,241.4 442,241.4 442,246.63 442.5,246.63 442.5,242.71 443,242.71 443,240.09 443.5,240.09 443.5,242.71 444,242.71 444,246.63 444.5,246.63 445,246.63 445.5,246.63 446,246.63 446,241.4 446.5,241.4 447,241.4 447.5,241.4 447.5,255.78 448,255.78 448,241.4 448.5,241.4 448.5,242.71 449,242.71 449.5,242.71 450,242.71 450.5,242.71 450.5,236.17 451,236.17 451,242.71 451.5,242.71 451.5,236.17 452,236.17 452,245.32 452.5,245.32 452.5,241.4 453,241.4 453.5,241.4 453.5,238.79 454,238.79 454,244.01 454.5,244.01 454.5,242.71 455,242.71 455.5,242.71 455.5,241.4 456,241.4 456.5,241.4 457,241.4 457.5,241.4 458,241.4 458.5,241.4 459,241.4 459,246.63 459.5,246.63 459.5,241.4 460,241.4 460,242.71 460.5,242.71 460.5,244.01 461,244.01 461,238.79 461.5,238.79 462,238.79 462.5,238.79 463,238.79 463.5,238.79 464,238.79 464.5,238.79 464.5,241.4 465,241.4 465.5,241.4 466,241.4 466.5,241.4 467,241.4 467.5,241.4 467.5,237.48 468,237.48 468,241.4 468.5,241.4 469,241.4 469.5,241.4 469.5,244.01 470,244.01 470.5,244.01 471,244.01 471.5,244.01 471.5,242.71 472,242.71 472.5,242.71 472.5,236.17 473,236.17 473,242.71 473.5,242.71 474,242.71 474.5,242.71 475,242.71 475.5,242.71 476,242.71 476,241.4 476.5,241.4 477,241.4 477.5,241.4 478,241.4 478.5,241.4 478.5,242.71 479,242.71 479,255.78 479.5,255.78 479.5,242.71 480,242.71 480,245.32 480.5,245.32 480.5,242.71 481,242.71 481,237.48 481.5,237.48 481.5,238.79 482,238.79 482,246.63 482.5,246.63 483,246.63 483.5,246.63 483.5,242.71 484,242.71 484.5,242.71 484.5,238.79 485,238.79 485,241.4 485.5,241.4 486,241.4 486.5,241.4 487,241.4 487,242.71 487.5,242.71 488,242.71 488,241.4 488.5,241.4 488.5,242.71 489,242.71 489,236.17 489.5,236.17 489.5,244.01 490,244.01 490.5,244.01 491,244.01 491,240.09 491.5,240.09 491.5,242.71 492,242.71 492.5,242.71 492.5,239.31 493,239.31 493,238.79 493.5,238.79 493.5,246.63 494,246.63 494,242.71 494.5,242.71 494.5,245.32 495,245.32 495,242.71 495.5,242.71 496,242.71 496.5,242.71 496.5,239.31 497,239.31 497,242.71 497.5,242.71 498,242.71 498,244.01 498.5,244.01 498.5,240.09 499,240.09 499,246.63 499.5,246.63 499.5,241.4 500,241.4 500.5,241.4 501,241.4 501.5,241.4 501.5,237.48 502,237.48 502,241.4 502.5,241.4 503,241.4 503,244.01 503.5,244.01 504,244.01 504,245.32 504.5,245.32 504.5,244.01 505,244.01 505.5,244.01 505.5,240.09 506,240.09 506,242.71 506.5,242.71 506.5,244.01 507,244.01 507.5,244.01 508,244.01 508.5,244.01 509,244.01 509.5,244.01 510,244.01 510.5,244.01 511,244.01 511.5,244.01 512,244.01 512.5,244.01 513,244.01 513,242.71 513.5,242.71 514,242.71 514.5,242.71 515,242.71 515.5,242.71 516,242.71 516.5,242.71 516.5,244.01 517,244.01 517,245.32 517.5,245.32 517.5,242.71 518,242.71 518.5,242.71 519,242.71 519.5,242.71 520,242.71 520,251.86 520.5,251.86 520.5,241.4 521,241.4 521,238.79 521.5,238.79 521.5,242.71 522,242.71 522,241.4 522.5,241.4 522.5,236.17 523,236.17 523,246.63 523.5,246.63 523.5,251.86 524,251.86 524,238.79 524.5,238.79 524.5,242.71 525,242.71 525,249.24 525.5,249.24 525.5,242.71 526,242.71 526.5,242.71 527,242.71 527.5,242.71 528,242.71 528.5,242.71 529,242.71 529.5,242.71 530,242.71 530.5,242.71 530.5,237.48 531,237.48 531,234.86 531.5,234.86 531.5,244.01 532,244.01 532.5,244.01 533,244.01 533.5,244.01 534,244.01 534,238.79 534.5,238.79 534.5,242.71 535,242.71 535.5,242.71 535.5,237.48 536,237.48 536,242.71 536.5,242.71 536.5,246.63 537,246.63 537,242.71 537.5,242.71 538,242.71 538.5,242.71 539,242.71 539.5,242.71 540,242.71 540.5,242.71 540.5,244.01 541,244.01 541.5,244.01 542,244.01 542.5,244.01 543,244.01 543.5,244.01 544,244.01 544,246.63 544.5,246.63 544.5,244.01 545,244.01 545.5,244.01 546,244.01 546.5,244.01 546.5,253.16 547,253.16 547,241.4 547.5,241.4 548,241.4 548.5,241.4 548.5,255.78 549,255.78 549,241.4 549.5,241.4 550,241.4 550,238.79 550.5,238.79 551,238.79 551.5,238.79 551.5,242.71 552,242.71 552,244.01 552.5,244.01 553,244.01 553.5,244.01 554,244.01 554.5,244.01 554.5,236.17 555,236.17 555,246.63 555.5,246.63 555.5,244.01 556,244.01 556.5,244.01 557,244.01 557.5,244.01 557.5,237.48 558,237.48 558,238.79 558.5,238.79 558.5,237.48 559,237.48 559,242.71 559.5,242.71 560,242.71 560.5,242.71 561,242.71 561.5,242.71 562,242.71 562.5,242.71 562.5,241.4 563,241.4 563,240.09 563.5,240.09 563.5,254.47 564,254.47 564,244.01 564.5,244.01 564.5,240.09 565,240.09 565,244.01 565.5,244.01 565.5,241.4 566,241.4 566.5,241.4 566.5,242.71 567,242.71 567.5,242.71 568,242.71 568.5,242.71 568.5,241.4 569,241.4 569,242.71 569.5,242.71 570,242.71 570,245.32 570.5,245.32 570.5,242.71 571,242.71 571,244.01 571.5,244.01 572,244.01 572.5,244.01 573,244.01 573,242.71 573.5,242.71 574,242.71 574.5,242.71 575,242.71 575.5,242.71 576,242.71 576.5,242.71 576.5,244.01 577,244.01 577,242.71 577.5,242.71 577.5,241.4 578,241.4 578.5,241.4 579,241.4 579,236.17 579.5,236.17 579.5,237.48 580,237.48 580,241.4 580.5,241.4 580.5,244.01 581,244.01 581.5,244.01 581.5,246.63 582,246.63 582.5,246.63 583,246.63 583.5,246.63 584,246.63 584.5,246.63 584.5,244.01 585,244.01 585,242.71 585.5,242.71 586,242.71 586,240.09 586.5,240.09 586.5,249.24 587,249.24 587,245.32 587.5,245.32 587.5,241.4 588,241.4 588,238.79 588.5,238.79 589,238.79 589.5,238.79 590,238.79 590.5,238.79 590.5,236.17 591,236.17 591,246.63 591.5,246.63 591.5,242.71 592,242.71 592.5,242.71 592.5,237.48 593,237.48 593,244.01 593.5,244.01 594,244.01 594.5,244.01 595,244.01 595.5,244.01 596,244.01 596.5,244.01 596.5,242.71 597,242.71 597.5,242.71 597.5,245.32 598,245.32 598,244.01 598.5,244.01 599,244.01 599.5,244.01 600,244.01 600.5,244.01 601,244.01 601.5,244.01 601.5,254.47 602,254.47 602,242.71 602.5,242.71 603,242.71 603,244.01 603.5,244.01 604,244.01 604.5,244.01 604.5,238.79 605,238.79 605,242.71 605.5,242.71 606,242.71 606.5,242.71 607,242.71 607.5,242.71 607.5,244.01 608,244.01 608,242.71 608.5,242.71 609,242.71 609,244.01 609.5,244.01 610,244.01 610.5,244.01 611,244.01 611,246.63 611.5,246.63 611.5,244.01 612,244.01 612.5,244.01 613,244.01 613,241.4 613.5,241.4 614,241.4 614.5,241.4 614.5,238.79 615,238.79 615.5,238.79 616,238.79 616.5,238.79 616.5,241.4 617,241.4 617,238.79 617.5,238.79 617.5,241.4 618,241.4 618,245.32 618.5,245.32 618.5,241.4 619,241.4 619,242.71 619.5,242.71 619.5,237.48 620,237.48 620,242.71 620.5,242.71 621,242.71 621.5,242.71 621.5,241.4 622,241.4 622.5,241.4 623,241.4 623,242.71 623.5,242.71 624,242.71 624.5,242.71 624.5,255.78 625,255.78 625,242.71 625.5,242.71 626,242.71 626,244.01 626.5,244.01 626.5,254.47 627,254.47 627,244.01 627.5,244.01 628,244.01 628.5,244.01 628.5,241.4 629,241.4 629.5,241.4 630,241.4 630,245.32 630.5,245.32 630.5,241.4 631,241.4 631,244.01 631.5,244.01 631.5,238.79 632,238.79 632.5,238.79 632.5,244.01 633,244.01 633.5,244.01 633.5,238.79 634,238.79 634.5,238.79 635,238.79 635,242.71 635.5,242.71 636,242.71 636.5,242.71 637,242.71 637,254.47 637.5,254.47 637.5,242.71 638,242.71 638,246.63 638.5,246.63 639,246.63 639.5,246.63 640,246.63 640.5,246.63 640.5,239.31 641,239.31 641,246.63 641.5,246.63 641.5,254.47 642,254.47 642,246.63 642.5,246.63 642.5,237.48 643,237.48 643,245.32 643.5,245.32 643.5,246.63 644,246.63 644,241.4 644.5,241.4 644.5,244.01 645,244.01 645.5,244.01 646,244.01 646,242.71 646.5,242.71 647,242.71 647.5,242.71 647.5,241.4 648,241.4 648.5,241.4 649,241.4 649,239.31 649.5,239.31 649.5,246.63 650,246.63 650.5,246.63 651,246.63 651,244.01 651.5,244.01 651.5,242.71 652,242.71 652,238.79 652.5,238.79 652.5,245.32 653,245.32 653,238.79 653.5,238.79 653.5,242.71 654,242.71 654.5,242.71 655,242.71 655.5,242.71 656,242.71 656,241.4 656.5,241.4 657,241.4 657.5,241.4 658,241.4 658,238.79 658.5,238.79 658.5,244.01 659,244.01 659,239.31 659.5,239.31 659.5,244.01 660,244.01 660,245.32 660.5,245.32 660.5,241.4 661,241.4 661.5,241.4 662,241.4 662.5,241.4 663,241.4 663,244.01 663.5,244.01 663.5,242.71 664,242.71 664.5,242.71 665,242.71 665.5,242.71 666,242.71 666,244.01 666.5,244.01 667,244.01 667.5,244.01 667.5,242.71 668,242.71 668.5,242.71 669,242.71 669,241.4 669.5,241.4 669.5,238.79 670,238.79 670.5,238.79 671,238.79 671.5,238.79 672,238.79 672.5,238.79 672.5,241.4 673,241.4 673.5,241.4 673.5,246.63 674,246.63 674,241.4 674.5,241.4 674.5,237.48 675,237.48 675,246.63 675.5,246.63 675.5,241.4 676,241.4 676.5,241.4 677,241.4 677,238.79 677.5,238.79 677.5,236.17 678,236.17 678,241.4 678.5,241.4 679,241.4 679,244.01 679.5,244.01 680,244.01 680,242.71 680.5,242.71 680.5,238.79 681,238.79 681,244.01 681.5,244.01 682,244.01 682.5,244.01 683,244.01 683,240.09 683.5,240.09 683.5,246.63 684,246.63 684,237.48 684.5,237.48" fill="none" stroke="#2ab842" stroke-width="0.8"/>
<polyline points="166.5,245.32 167,245.32 167,244.01 167.5,244.01 168,244.01 168.5,244.01 168.5,245.32 169,245.32 169.5,245.32 169.5,247.94 170,247.94 170,246.63 170.5,246.63 170.5,250.55 171,250.55 171,242.71 171.5,242.71 171.5,246.63 172,246.63 172.5,246.63 173,246.63 173,249.24 173.5,249.24 173.5,246.63 174,246.63 174,249.24 174.5,249.24 175,249.24 175.5,249.24 176,249.24 176.5,249.24 177,249.24 177,245.32 177.5,245.32 177.5,244.01 178,244.01 178,240.09 178.5,240.09 178.5,244.01 179,244.01 179.5,244.01 180,244.01 180,245.32 180.5,245.32 181,245.32 181.5,245.32 182,245.32 182,246.63 182.5,246.63 183,246.63 183,245.32 183.5,245.32 183.5,246.63 184,246.63 184.5,246.63 185,246.63 185.5,246.63 185.5,250.55 186,250.55 186,246.63 186.5,246.63 186.5,250.55 187,250.55 187,241.4 187.5,241.4 187.5,246.63 188,246.63 188,244.01 188.5,244.01 188.5,245.32 189,245.32 189,246.63 189.5,246.63 190,246.63 190,245.32 190.5,245.32 190.5,246.63 191,246.63 191,241.4 191.5,241.4 191.5,246.63 192,246.63 192.5,246.63 193,246.63 193.5,246.63 194,246.63 194.5,246.63 195,246.63 195,241.4 195.5,241.4 195.5,245.32 196,245.32 196.5,245.32 197,245.32 197.5,245.32 198,245.32 198,244.01 198.5,244.01 199,244.01 199.5,244.01 199.5,250.55 200,250.55 200,244.01 200.5,244.01 200.5,245.32 201,245.32 201.5,245.32 201.5,241.4 202,241.4 202.5,241.4 202.5,244.01 203,244.01 203,241.4 203.5,241.4 204,241.4 204.5,241.4 205,241.4 205.5,241.4 206,241.4 206.5,241.4 207,241.4 207,245.32 207.5,245.32 208,245.32 208.5,245.32 209,245.32 209.5,245.32 209.5,241.4 210,241.4 210,245.32 210.5,245.32 211,245.32 211.5,245.32 212,245.32 212.5,245.32 213,245.32 213.5,245.32 214,245.32 214.5,245.32 215,245.32 215,241.4 215.5,241.4 215.5,245.32 216,245.32 216,246.63 216.5,246.63 217,246.63 217.5,246.63 218,246.63 218,245.32 218.5,245.32 219,245.32 219.5,245.32 220,245.32 220.5,245.32 221,245.32 221,249.24 221.5,249.24 222,249.24 222.5,249.24 223,249.24 223,245.32 223.5,245.32 223.5,242.71 224,242.71 224,244.01 224.5,244.01 225,244.01 225.5,244.01 226,244.01 226,245.32 226.5,245.32 227,245.32 227.5,245.32 228,245.32 228,246.63 228.5,246.63 229,246.63 229.5,246.63 230,246.63 230.5,246.63 230.5,249.24 231,249.24 231,245.32 231.5,245.32 231.5,247.94 232,247.94 232,244.01 232.5,244.01 233,244.01 233.5,244.01 233.5,250.55 234,250.55 234,244.01 234.5,244.01 235,244.01 235.5,244.01 235.5,246.63 236,246.63 236.5,246.63 237,246.63 237.5,246.63 238,246.63 238,244.01 238.5,244.01 239,244.01 239,245.32 239.5,245.32 239.5,244.01 240,244.01 240.5,244.01 241,244.01 241.5,244.01 242,244.01 242.5,244.01 242.5,250.55 243,250.55 243,244.01 243.5,244.01 244,244.01 244.5,244.01 244.5,249.24 245,249.24 245.5,249.24 245.5,241.4 246,241.4 246,249.24 246.5,249.24 247,249.24 247.5,249.24 248,249.24 248.5,249.24 248.5,245.32 249,245.32 249.5,245.32 250,245.32 250.5,245.32 251,245.32 251.5,245.32 252,245.32 252,246.63 252.5,246.63 253,246.63 253,241.4 253.5,241.4 254,241.4 254.5,241.4 254.5,245.32 255,245.32 255,247.94 255.5,247.94 255.5,245.32 256,245.32 256.5,245.32 257,245.32 257.5,245.32 258,245.32 258.5,245.32 258.5,246.63 259,246.63 259,250.55 259.5,250.55 259.5,246.63 260,246.63 260.5,246.63 261,246.63 261.5,246.63 262,246.63 262.5,246.63 262.5,247.94 263,247.94 263,246.63 263.5,246.63 264,246.63 264.5,246.63 264.5,245.32 265,245.32 265,244.01 265.5,244.01 266,244.01 266.5,244.01 266.5,246.63 267,246.63 267.5,246.63 268,246.63 268.5,246.63 269,246.63 269,244.01 269.5,244.01 269.5,246.63 270,246.63 270,244.01 270.5,244.01 271,244.01 271,241.4 271.5,241.4 272,241.4 272,246.63 272.5,246.63 273,246.63 273.5,246.63 274,246.63 274,250.55 274.5,250.55 274.5,249.24 275,249.24 275.5,249.24 275.5,241.4 276,241.4 276,246.63 276.5,246.63 277,246.63 277,244.01 277.5,244.01 278,244.01 278.5,244.01 278.5,245.32 279,245.32 279.5,245.32 280,245.32 280,247.94 280.5,247.94 280.5,245.32 281,245.32 281.5,245.32 282,245.32 282.5,245.32 283,245.32 283.5,245.32 284,245.32 284,244.01 284.5,244.01 284.5,245.32 285,245.32 285.5,245.32 286,245.32 286.5,245.32 286.5,246.63 287,246.63 287.5,246.63 288,246.63 288.5,246.63 289,246.63 289.5,246.63 290,246.63 290.5,246.63 291,246.63 291.5,246.63 292,246.63 292.5,246.63 293,246.63 293.5,246.63 294,246.63 294.5,246.63 295,246.63 295,241.4 295.5,241.4 296,241.4 296,249.24 296.5,249.24 296.5,241.4 297,241.4 297,240.09 297.5,240.09 297.5,241.4 298,241.4 298,244.01 298.5,244.01 299,244.01 299.5,244.01 300,244.01 300,246.63 300.5,246.63 300.5,244.01 301,244.01 301.5,244.01 302,244.01 302,246.63 302.5,246.63 303,246.63 303.5,246.63 304,246.63 304.5,246.63 305,246.63 305.5,246.63 306,246.63 306.5,246.63 307,246.63 307.5,246.63 308,246.63 308.5,246.63 309,246.63 309.5,246.63 310,246.63 310.5,246.63 311,246.63 311.5,246.63 312,246.63 312.5,246.63 312.5,244.01 313,244.01 313.5,244.01 313.5,247.94 314,247.94 314,250.55 314.5,250.55 314.5,245.32 315,245.32 315,247.94 315.5,247.94 315.5,245.32 316,245.32 316,240.09 316.5,240.09 316.5,245.32 317,245.32 317.5,245.32 318,245.32 318.5,245.32 319,245.32 319.5,245.32 320,245.32 320.5,245.32 321,245.32 321.5,245.32 322,245.32 322,247.94 322.5,247.94 322.5,241.4 323,241.4 323.5,241.4 324,241.4 324.5,241.4 325,241.4 325,244.01 325.5,244.01 326,244.01 326.5,244.01 327,244.01 327.5,244.01 327.5,247.94 328,247.94 328,245.32 328.5,245.32 329,245.32 329.5,245.32 330,245.32 330.5,245.32 330.5,244.01 331,244.01 331,246.63 331.5,246.63 332,246.63 332.5,246.63 333,246.63 333.5,246.63 334,246.63 334.5,246.63 335,246.63 335,245.32 335.5,245.32 335.5,241.4 336,241.4 336.5,241.4 337,241.4 337.5,241.4 338,241.4 338,245.32 338.5,245.32 339,245.32 339.5,245.32 340,245.32 340.5,245.32 341,245.32 341.5,245.32 341.5,240.09 342,240.09 342,245.32 342.5,245.32 343,245.32 343.5,245.32 344,245.32 344.5,245.32 345,245.32 345.5,245.32 346,245.32 346.5,245.32 347,245.32 347.5,245.32 348,245.32 348,247.94 348.5,247.94 348.5,246.63 349,246.63 349.5,246.63 349.5,241.4 350,241.4 350.5,241.4 351,241.4 351,246.63 351.5,246.63 351.5,242.71 352,242.71 352,244.01 352.5,244.01 353,244.01 353.5,244.01 354,244.01 354.5,244.01 355,244.01 355.5,244.01 356,244.01 356,242.71 356.5,242.71 356.5,244.01 357,244.01 357.5,244.01 358,244.01 358,245.32 358.5,245.32 359,245.32 359.5,245.32 360,245.32 360.5,245.32 361,245.32 361.5,245.32 362,245.32 362.5,245.32 363,245.32 363.5,245.32 364,245.32 364.5,245.32 365,245.32 365.5,245.32 366,245.32 366,246.63 366.5,246.63 366.5,240.09 367,240.09 367,242.71 367.5,242.71 367.5,246.63 368,246.63 368,241.4 368.5,241.4 368.5,246.63 369,246.63 369.5,246.63 370,246.63 370,241.4 370.5,241.4 370.5,246.63 371,246.63 371,244.01 371.5,244.01 371.5,245.32 372,245.32 372.5,245.32 373,245.32 373.5,245.32 374,245.32 374,249.24 374.5,249.24 375,249.24 375,241.4 375.5,241.4 376,241.4 376.5,241.4 377,241.4 377.5,241.4 378,241.4 378.5,241.4 379,241.4 379,246.63 379.5,246.63 380,246.63 380.5,246.63 380.5,244.01 381,244.01 381.5,244.01 382,244.01 382.5,244.01 383,244.01 383,245.32 383.5,245.32 383.5,249.24 384,249.24 384,245.32 384.5,245.32 385,245.32 385.5,245.32 385.5,241.4 386,241.4 386,245.32 386.5,245.32 386.5,244.01 387,244.01 387.5,244.01 387.5,241.4 388,241.4 388.5,241.4 389,241.4 389.5,241.4 390,241.4 390.5,241.4 391,241.4 391.5,241.4 392,241.4 392.5,241.4 393,241.4 393.5,241.4 394,241.4 394.5,241.4 395,241.4 395.5,241.4 396,241.4 396.5,241.4 396.5,244.01 397,244.01 397.5,244.01 397.5,245.32 398,245.32 398.5,245.32 399,245.32 399.5,245.32 399.5,246.63 400,246.63 400.5,246.63 400.5,242.71 401,242.71 401,245.32 401.5,245.32 402,245.32 402.5,245.32 403,245.32 403.5,245.32 404,245.32 404.5,245.32 405,245.32 405,250.55 405.5,250.55 405.5,245.32 406,245.32 406.5,245.32 407,245.32 407.5,245.32 408,245.32 408.5,245.32 409,245.32 409.5,245.32 409.5,247.94 410,247.94 410,240.09 410.5,240.09 410.5,245.32 411,245.32 411.5,245.32 411.5,246.63 412,246.63 412,244.01 412.5,244.01 412.5,245.32 413,245.32 413.5,245.32 414,245.32 414.5,245.32 414.5,246.63 415,246.63 415.5,246.63 416,246.63 416,245.32 416.5,245.32 417,245.32 417.5,245.32 418,245.32 418.5,245.32 419,245.32 419,247.94 419.5,247.94 419.5,245.32 420,245.32 420.5,245.32 421,245.32 421.5,245.32 422,245.32 422.5,245.32 422.5,247.94 423,247.94 423,246.63 423.5,246.63 424,246.63 424.5,246.63 425,246.63 425,244.01 425.5,244.01 426,244.01 426,250.55 426.5,250.55 426.5,244.01 427,244.01 427,240.09 427.5,240.09 427.5,246.63 428,246.63 428.5,246.63 429,246.63 429,244.01 429.5,244.01 429.5,247.94 430,247.94 430,246.63 430.5,246.63 430.5,244.01 431,244.01 431,249.24 431.5,249.24 432,249.24 432,247.94 432.5,247.94 432.5,249.24 433,249.24 433.5,249.24 434,249.24 434.5,249.24 435,249.24 435.5,249.24 436,249.24 436.5,249.24 437,249.24 437.5,249.24 438,249.24 438,246.63 438.5,246.63 439,246.63 439,244.01 439.5,244.01 439.5,241.4 440,241.4 440,244.01 440.5,244.01 441,244.01 441,246.63 441.5,246.63 442,246.63 442.5,246.63 443,246.63 443.5,246.63 444,246.63 444.5,246.63 445,246.63 445,241.4 445.5,241.4 446,241.4 446.5,241.4 447,241.4 447.5,241.4 447.5,246.63 448,246.63 448.5,246.63 448.5,242.71 449,242.71 449,246.63 449.5,246.63 450,246.63 450.5,246.63 451,246.63 451.5,246.63 452,246.63 452.5,246.63 453,246.63 453.5,246.63 454,246.63 454.5,246.63 455,246.63 455.5,246.63 456,246.63 456,245.32 456.5,245.32 457,245.32 457.5,245.32 457.5,241.4 458,241.4 458,244.01 458.5,244.01 459,244.01 459.5,244.01 460,244.01 460,246.63 460.5,246.63 461,246.63 461.5,246.63 461.5,241.4 462,241.4 462,245.32 462.5,245.32 463,245.32 463.5,245.32 464,245.32 464.5,245.32 464.5,250.55 465,250.55 465,245.32 465.5,245.32 465.5,250.55 466,250.55 466,246.63 466.5,246.63 467,246.63 467.5,246.63 468,246.63 468.5,246.63 469,246.63 469.5,246.63 470,246.63 470.5,246.63 471,246.63 471.5,246.63 472,246.63 472.5,246.63 473,246.63 473.5,246.63 474,246.63 474.5,246.63 475,246.63 475.5,246.63 476,246.63 476.5,246.63 476.5,245.32 477,245.32 477.5,245.32 478,245.32 478.5,245.32 479,245.32 479.5,245.32 479.5,244.01 480,244.01 480,249.24 480.5,249.24 481,249.24 481.5,249.24 482,249.24 482.5,249.24 482.5,245.32 483,245.32 483.5,245.32 484,245.32 484,241.4 484.5,241.4 485,241.4 485,246.63 485.5,246.63 485.5,244.01 486,244.01 486.5,244.01 487,244.01 487.5,244.01 488,244.01 488.5,244.01 488.5,245.32 489,245.32 489.5,245.32 489.5,242.71 490,242.71 490,245.32 490.5,245.32 490.5,241.4 491,241.4 491.5,241.4 491.5,245.32 492,245.32 492.5,245.32 493,245.32 493,250.55 493.5,250.55 493.5,244.01 494,244.01 494.5,244.01 495,244.01 495.5,244.01 496,244.01 496.5,244.01 496.5,250.55 497,250.55 497,244.01 497.5,244.01 498,244.01 498,245.32 498.5,245.32 498.5,246.63 499,246.63 499.5,246.63 500,246.63 500.5,246.63 501,246.63 501.5,246.63 502,246.63 502.5,246.63 503,246.63 503,244.01 503.5,244.01 504,244.01 504,241.4 504.5,241.4 504.5,245.32 505,245.32 505.5,245.32 506,245.32 506.5,245.32 507,245.32 507.5,245.32 507.5,250.55 508,250.55 508,242.71 508.5,242.71 508.5,246.63 509,246.63 509.5,246.63 510,246.63 510.5,246.63 511,246.63 511.5,246.63 511.5,245.32 512,245.32 512.5,245.32 513,245.32 513.5,245.32 514,245.32 514,241.4 514.5,241.4 515,241.4 515.5,241.4 516,241.4 516.5,241.4 517,241.4 517.5,241.4 517.5,240.09 518,240.09 518,241.4 518.5,241.4 519,241.4 519.5,241.4 519.5,246.63 520,246.63 520,249.24 520.5,249.24 520.5,245.32 521,245.32 521.5,245.32 521.5,246.63 522,246.63 522.5,246.63 522.5,245.32 523,245.32 523.5,245.32 523.5,244.01 524,244.01 524,245.32 524.5,245.32 524.5,250.55 525,250.55 525,245.32 525.5,245.32 526,245.32 526.5,245.32 527,245.32 527.5,245.32 527.5,249.24 528,249.24 528.5,249.24 528.5,240.09 529,240.09 529,249.24 529.5,249.24 530,249.24 530.5,249.24 530.5,246.63 531,246.63 531.5,246.63 532,246.63 532.5,246.63 533,246.63 533.5,246.63 534,246.63 534.5,246.63 535,246.63 535.5,246.63 536,246.63 536.5,246.63 537,246.63 537.5,246.63 538,246.63 538,244.01 538.5,244.01 539,244.01 539.5,244.01 540,244.01 540.5,244.01 541,244.01 541.5,244.01 542,244.01 542.5,244.01 543,244.01 543.5,244.01 543.5,245.32 544,245.32 544.5,245.32 545,245.32 545.5,245.32 546,245.32 546,246.63 546.5,246.63 547,246.63 547.5,246.63 548,246.63 548.5,246.63 548.5,240.09 549,240.09 549,242.71 549.5,242.71 549.5,249.24 550,249.24 550.5,249.24 551,249.24 551.5,249.24 552,249.24 552,245.32 552.5,245.32 553,245.32 553.5,245.32 554,245.32 554.5,245.32 555,245.32 555.5,245.32 556,245.32 556,246.63 556.5,246.63 556.5,241.4 557,241.4 557.5,241.4 558,241.4 558,250.55 558.5,250.55 558.5,242.71 559,242.71 559,250.55 559.5,250.55 559.5,246.63 560,246.63 560.5,246.63 561,246.63 561.5,246.63 562,246.63 562.5,246.63 563,246.63 563.5,246.63 564,246.63 564,245.32 564.5,245.32 565,245.32 565.5,245.32 566,245.32 566.5,245.32 567,245.32 567,244.01 567.5,244.01 568,244.01 568.5,244.01 568.5,245.32 569,245.32 569.5,245.32 569.5,240.09 570,240.09 570,249.24 570.5,249.24 571,249.24 571.5,249.24 572,249.24 572,250.55 572.5,250.55 572.5,249.24 573,249.24 573.5,249.24 573.5,241.4 574,241.4 574,249.24 574.5,249.24 574.5,244.01 575,244.01 575.5,244.01 576,244.01 576.5,244.01 576.5,246.63 577,246.63 577.5,246.63 578,246.63 578.5,246.63 579,246.63 579.5,246.63 579.5,249.24 580,249.24 580,250.55 580.5,250.55 580.5,242.71 581,242.71 581,245.32 581.5,245.32 581.5,246.63 582,246.63 582.5,246.63 583,246.63 583.5,246.63 583.5,240.09 584,240.09 584.5,240.09 584.5,244.01 585,244.01 585.5,244.01 585.5,240.09 586,240.09 586,244.01 586.5,244.01 587,244.01 587.5,244.01 588,244.01 588,246.63 588.5,246.63 589,246.63 589.5,246.63 590,246.63 590.5,246.63 591,246.63 591.5,246.63 591.5,247.94 592,247.94 592,245.32 592.5,245.32 593,245.32 593,244.01 593.5,244.01 594,244.01 594,242.71 594.5,242.71 594.5,245.32 595,245.32 595,246.63 595.5,246.63 596,246.63 596,245.32 596.5,245.32 596.5,247.94 597,247.94 597,245.32 597.5,245.32 597.5,244.01 598,244.01 598.5,244.01 599,244.01 599.5,244.01 600,244.01 600.5,244.01 601,244.01 601.5,244.01 601.5,245.32 602,245.32 602.5,245.32 603,245.32 603,246.63 603.5,246.63 604,246.63 604.5,246.63 605,246.63 605.5,246.63 606,246.63 606.5,246.63 607,246.63 607.5,246.63 607.5,250.55 608,250.55 608,246.63 608.5,246.63 609,246.63 609,241.4 609.5,241.4 609.5,245.32 610,245.32 610,244.01 610.5,244.01 611,244.01 611.5,244.01 612,244.01 612.5,244.01 613,244.01 613.5,244.01 614,244.01 614.5,244.01 615,244.01 615,250.55 615.5,250.55 615.5,241.4 616,241.4 616,249.24 616.5,249.24 616.5,241.4 617,241.4 617.5,241.4 618,241.4 618.5,241.4 618.5,250.55 619,250.55 619,241.4 619.5,241.4 619.5,249.24 620,249.24 620.5,249.24 620.5,240.09 621,240.09 621,249.24 621.5,249.24 622,249.24 622.5,249.24 623,249.24 623.5,249.24 624,249.24 624.5,249.24 625,249.24 625.5,249.24 625.5,247.94 626,247.94 626,249.24 626.5,249.24 626.5,245.32 627,245.32 627.5,245.32 628,245.32 628.5,245.32 629,245.32 629.5,245.32 629.5,246.63 630,246.63 630.5,246.63 630.5,245.32 631,245.32 631.5,245.32 632,245.32 632,241.4 632.5,241.4 632.5,245.32 633,245.32 633.5,245.32 634,245.32 634.5,245.32 635,245.32 635.5,245.32 636,245.32 636.5,245.32 637,245.32 637.5,245.32 637.5,246.63 638,246.63 638,250.55 638.5,250.55 638.5,246.63 639,246.63 639.5,246.63 640,246.63 640,249.24 640.5,249.24 641,249.24 641,244.01 641.5,244.01 642,244.01 642.5,244.01 643,244.01 643.5,244.01 643.5,242.71 644,242.71 644,244.01 644.5,244.01 644.5,249.24 645,249.24 645.5,249.24 646,249.24 646,245.32 646.5,245.32 647,245.32 647,249.24 647.5,249.24 648,249.24 648.5,249.24 649,249.24 649,241.4 649.5,241.4 649.5,249.24 650,249.24 650.5,249.24 650.5,244.01 651,244.01 651,240.09 651.5,240.09 651.5,241.4 652,241.4 652,249.24 652.5,249.24 653,249.24 653.5,249.24 654,249.24 654.5,249.24 654.5,242.71 655,242.71 655,250.55 655.5,250.55 655.5,242.71 656,242.71 656,249.24 656.5,249.24 656.5,247.94 657,247.94 657,244.01 657.5,244.01 658,244.01 658.5,244.01 659,244.01 659.5,244.01 660,244.01 660.5,244.01 661,244.01 661.5,244.01 662,244.01 662.5,244.01 662.5,241.4 663,241.4 663.5,241.4 664,241.4 664,245.32 664.5,245.32 665,245.32 665,240.09 665.5,240.09 665.5,245.32 666,245.32 666.5,245.32 666.5,246.63 667,246.63 667.5,246.63 668,246.63 668,241.4 668.5,241.4 668.5,246.63 669,246.63 669.5,246.63 670,246.63 670.5,246.63 671,246.63 671,245.32 671.5,245.32 672,245.32 672.5,245.32 673,245.32 673.5,245.32 674,245.32 674.5,245.32 674.5,246.63 675,246.63 675.5,246.63 676,246.63 676,245.32 676.5,245.32 677,245.32 677.5,245.32 678,245.32 678.5,245.32 678.5,240.09 679,240.09 679,246.63 679.5,246.63 680,246.63 680.5,246.63 680.5,245.32 681,245.32 681.5,245.32 682,245.32 682.5,245.32 683,245.32 683.5,245.32 684,245.32 684.5,245.32" fill="none" stroke="#cba040" stroke-width="0.72"/>
<line x1="169.8" y1="245.32" x2="169.8" y2="207.41" stroke="#caa244" stroke-width="1.05"/>
<line x1="193.3" y1="245.32" x2="193.3" y2="215.26" stroke="#caa244" stroke-width="1.05"/>
<line x1="234.7" y1="245.32" x2="234.7" y2="215.26" stroke="#caa244" stroke-width="1.05"/>
<line x1="263" y1="245.32" x2="263" y2="228.33" stroke="#caa244" stroke-width="1.05"/>
<line x1="273.6" y1="245.32" x2="273.6" y2="215.26" stroke="#caa244" stroke-width="1.05"/>
<line x1="287.3" y1="245.32" x2="287.3" y2="215.26" stroke="#caa244" stroke-width="1.05"/>
<line x1="291" y1="245.32" x2="291" y2="215.26" stroke="#caa244" stroke-width="1.05"/>
<line x1="390.2" y1="245.32" x2="390.2" y2="215.26" stroke="#caa244" stroke-width="1.05"/>
<line x1="406.8" y1="245.32" x2="406.8" y2="215.26" stroke="#caa244" stroke-width="1.05"/>
<line x1="433.8" y1="245.32" x2="433.8" y2="228.33" stroke="#caa244" stroke-width="1.05"/>
<line x1="464.5" y1="245.32" x2="464.5" y2="220.49" stroke="#caa244" stroke-width="1.05"/>
<line x1="467.2" y1="245.32" x2="467.2" y2="207.41" stroke="#caa244" stroke-width="1.05"/>
<line x1="516.4" y1="245.32" x2="516.4" y2="215.26" stroke="#caa244" stroke-width="1.05"/>
<line x1="536.8" y1="245.32" x2="536.8" y2="215.26" stroke="#caa244" stroke-width="1.05"/>
<line x1="603.4" y1="245.32" x2="603.4" y2="207.41" stroke="#caa244" stroke-width="1.05"/>
<line x1="606.3" y1="245.32" x2="606.3" y2="230.94" stroke="#caa244" stroke-width="1.05"/>
<line x1="610.6" y1="245.32" x2="610.6" y2="215.26" stroke="#caa244" stroke-width="1.05"/>
<line x1="624.7" y1="245.32" x2="624.7" y2="215.26" stroke="#caa244" stroke-width="1.05"/>
<line x1="631" y1="245.32" x2="631" y2="224.41" stroke="#caa244" stroke-width="1.05"/>
<line x1="659" y1="245.32" x2="659" y2="233.56" stroke="#caa244" stroke-width="1.05"/>
<line x1="667.2" y1="245.32" x2="667.2" y2="221.79" stroke="#caa244" stroke-width="1.05"/>
<polyline points="166.5,251.86 167,251.86 167,252.38 167.5,252.38 167.5,251.07 168,251.07 168,249.24 168.5,249.24 168.5,246.63 169,246.63 169,247.94 169.5,247.94 170,247.94 170.5,247.94 171,247.94 171,251.86 171.5,251.86 172,251.86 172.5,251.86 173,251.86 173,241.4 173.5,241.4 173.5,246.63 174,246.63 174.5,246.63 174.5,249.24 175,249.24 175.5,249.24 176,249.24 176.5,249.24 176.5,245.32 177,245.32 177,249.24 177.5,249.24 178,249.24 178,251.86 178.5,251.86 178.5,249.24 179,249.24 179.5,249.24 180,249.24 180.5,249.24 181,249.24 181.5,249.24 182,249.24 182.5,249.24 182.5,246.63 183,246.63 183,251.86 183.5,251.86 183.5,245.32 184,245.32 184,246.63 184.5,246.63 185,246.63 185.5,246.63 185.5,249.24 186,249.24 186.5,249.24 186.5,244.01 187,244.01 187,247.94 187.5,247.94 188,247.94 188.5,247.94 189,247.94 189.5,247.94 189.5,250.55 190,250.55 190,247.94 190.5,247.94 190.5,241.4 191,241.4 191,247.94 191.5,247.94 192,247.94 192,251.86 192.5,251.86 193,251.86 193,247.94 193.5,247.94 194,247.94 194,246.63 194.5,246.63 195,246.63 195,252.38 195.5,252.38 195.5,246.63 196,246.63 196,250.55 196.5,250.55 196.5,251.86 197,251.86 197,247.94 197.5,247.94 198,247.94 198.5,247.94 199,247.94 199.5,247.94 199.5,246.63 200,246.63 200,241.4 200.5,241.4 200.5,251.86 201,251.86 201.5,251.86 202,251.86 202,241.4 202.5,241.4 202.5,249.24 203,249.24 203.5,249.24 204,249.24 204,247.94 204.5,247.94 205,247.94 205.5,247.94 205.5,245.32 206,245.32 206,247.94 206.5,247.94 206.5,246.63 207,246.63 207,247.94 207.5,247.94 208,247.94 208,250.55 208.5,250.55 208.5,247.94 209,247.94 209.5,247.94 210,247.94 210.5,247.94 211,247.94 211.5,247.94 212,247.94 212,250.55 212.5,250.55 212.5,247.94 213,247.94 213,251.07 213.5,251.07 213.5,247.94 214,247.94 214,251.07 214.5,251.07 214.5,251.86 215,251.86 215,247.94 215.5,247.94 215.5,251.86 216,251.86 216.5,251.86 217,251.86 217.5,251.86 218,251.86 218.5,251.86 219,251.86 219.5,251.86 220,251.86 220,252.38 220.5,252.38 220.5,251.86 221,251.86 221,252.38 221.5,252.38 221.5,251.86 222,251.86 222.5,251.86 223,251.86 223.5,251.86 223.5,247.94 224,247.94 224,241.4 224.5,241.4 224.5,246.63 225,246.63 225.5,246.63 225.5,249.24 226,249.24 226.5,249.24 227,249.24 227.5,249.24 228,249.24 228,247.94 228.5,247.94 229,247.94 229.5,247.94 230,247.94 230,249.24 230.5,249.24 231,249.24 231,252.38 231.5,252.38 231.5,249.24 232,249.24 232.5,249.24 233,249.24 233.5,249.24 233.5,245.32 234,245.32 234,249.24 234.5,249.24 235,249.24 235,247.94 235.5,247.94 236,247.94 236.5,247.94 237,247.94 237.5,247.94 238,247.94 238.5,247.94 239,247.94 239.5,247.94 239.5,251.86 240,251.86 240,247.94 240.5,247.94 240.5,249.24 241,249.24 241,241.4 241.5,241.4 241.5,251.07 242,251.07 242,249.24 242.5,249.24 243,249.24 243,251.07 243.5,251.07 243.5,241.4 244,241.4 244,249.24 244.5,249.24 245,249.24 245.5,249.24 246,249.24 246.5,249.24 246.5,241.4 247,241.4 247,249.24 247.5,249.24 248,249.24 248.5,249.24 249,249.24 249.5,249.24 250,249.24 250.5,249.24 251,249.24 251,247.94 251.5,247.94 252,247.94 252,246.63 252.5,246.63 252.5,244.01 253,244.01 253.5,244.01 254,244.01 254.5,244.01 254.5,251.86 255,251.86 255,244.01 255.5,244.01 256,244.01 256.5,244.01 257,244.01 257.5,244.01 258,244.01 258,249.24 258.5,249.24 259,249.24 259.5,249.24 260,249.24 260,251.07 260.5,251.07 260.5,249.24 261,249.24 261.5,249.24 262,249.24 262,252.38 262.5,252.38 262.5,251.86 263,251.86 263.5,251.86 263.5,247.94 264,247.94 264.5,247.94 265,247.94 265,245.32 265.5,245.32 265.5,247.94 266,247.94 266,241.4 266.5,241.4 266.5,247.94 267,247.94 267.5,247.94 267.5,245.32 268,245.32 268,247.94 268.5,247.94 268.5,252.38 269,252.38 269,247.94 269.5,247.94 269.5,251.86 270,251.86 270,249.24 270.5,249.24 271,249.24 271.5,249.24 272,249.24 272.5,249.24 273,249.24 273.5,249.24 273.5,246.63 274,246.63 274.5,246.63 275,246.63 275.5,246.63 276,246.63 276.5,246.63 276.5,250.55 277,250.55 277,247.94 277.5,247.94 278,247.94 278,249.24 278.5,249.24 278.5,247.94 279,247.94 279.5,247.94 280,247.94 280,246.63 280.5,246.63 281,246.63 281.5,246.63 282,246.63 282,249.24 282.5,249.24 282.5,251.86 283,251.86 283.5,251.86 284,251.86 284,246.63 284.5,246.63 285,246.63 285.5,246.63 285.5,249.24 286,249.24 286.5,249.24 287,249.24 287,251.86 287.5,251.86 287.5,249.24 288,249.24 288.5,249.24 288.5,246.63 289,246.63 289,249.24 289.5,249.24 290,249.24 290.5,249.24 290.5,251.86 291,251.86 291.5,251.86 292,251.86 292.5,251.86 293,251.86 293.5,251.86 294,251.86 294.5,251.86 295,251.86 295.5,251.86 296,251.86 296.5,251.86 297,251.86 297.5,251.86 297.5,246.63 298,246.63 298.5,246.63 298.5,241.4 299,241.4 299,246.63 299.5,246.63 299.5,252.38 300,252.38 300,246.63 300.5,246.63 301,246.63 301.5,246.63 302,246.63 302,250.55 302.5,250.55 302.5,246.63 303,246.63 303.5,246.63 303.5,251.07 304,251.07 304,246.63 304.5,246.63 304.5,245.32 305,245.32 305,246.63 305.5,246.63 305.5,247.94 306,247.94 306,246.63 306.5,246.63 307,246.63 307.5,246.63 308,246.63 308.5,246.63 308.5,249.24 309,249.24 309.5,249.24 310,249.24 310,251.86 310.5,251.86 310.5,249.24 311,249.24 311.5,249.24 312,249.24 312.5,249.24 312.5,244.01 313,244.01 313.5,244.01 314,244.01 314.5,244.01 315,244.01 315.5,244.01 316,244.01 316.5,244.01 317,244.01 317.5,244.01 318,244.01 318.5,244.01 319,244.01 319,247.94 319.5,247.94 320,247.94 320.5,247.94 321,247.94 321.5,247.94 321.5,251.86 322,251.86 322,247.94 322.5,247.94 323,247.94 323.5,247.94 323.5,244.01 324,244.01 324.5,244.01 324.5,249.24 325,249.24 325.5,249.24 325.5,251.86 326,251.86 326.5,251.86 327,251.86 327.5,251.86 327.5,249.24 328,249.24 328.5,249.24 328.5,247.94 329,247.94 329.5,247.94 330,247.94 330.5,247.94 331,247.94 331.5,247.94 331.5,241.4 332,241.4 332,245.32 332.5,245.32 332.5,241.4 333,241.4 333,249.24 333.5,249.24 333.5,246.63 334,246.63 334.5,246.63 335,246.63 335.5,246.63 335.5,245.32 336,245.32 336,252.38 336.5,252.38 336.5,249.24 337,249.24 337.5,249.24 337.5,246.63 338,246.63 338.5,246.63 339,246.63 339.5,246.63 339.5,252.38 340,252.38 340,246.63 340.5,246.63 341,246.63 341,250.55 341.5,250.55 341.5,241.4 342,241.4 342,247.94 342.5,247.94 342.5,249.24 343,249.24 343.5,249.24 344,249.24 344.5,249.24 345,249.24 345,247.94 345.5,247.94 346,247.94 346,250.55 346.5,250.55 347,250.55 347,246.63 347.5,246.63 348,246.63 348.5,246.63 349,246.63 349,251.86 349.5,251.86 350,251.86 350.5,251.86 351,251.86 351,249.24 351.5,249.24 352,249.24 352.5,249.24 353,249.24 353,251.07 353.5,251.07 353.5,249.24 354,249.24 354,247.94 354.5,247.94 355,247.94 355.5,247.94 356,247.94 356.5,247.94 356.5,241.4 357,241.4 357,246.63 357.5,246.63 357.5,251.86 358,251.86 358,252.38 358.5,252.38 358.5,247.94 359,247.94 359.5,247.94 360,247.94 360,251.86 360.5,251.86 360.5,247.94 361,247.94 361.5,247.94 362,247.94 362.5,247.94 363,247.94 363.5,247.94 364,247.94 364.5,247.94 365,247.94 365.5,247.94 365.5,249.24 366,249.24 366,251.86 366.5,251.86 366.5,247.94 367,247.94 367,246.63 367.5,246.63 368,246.63 368.5,246.63 368.5,245.32 369,245.32 369,247.94 369.5,247.94 370,247.94 370,251.86 370.5,251.86 370.5,251.07 371,251.07 371,251.86 371.5,251.86 372,251.86 372.5,251.86 373,251.86 373.5,251.86 373.5,245.32 374,245.32 374,249.24 374.5,249.24 375,249.24 375,247.94 375.5,247.94 376,247.94 376,251.07 376.5,251.07 376.5,252.38 377,252.38 377,249.24 377.5,249.24 378,249.24 378.5,249.24 379,249.24 379.5,249.24 380,249.24 380,251.86 380.5,251.86 380.5,247.94 381,247.94 381,245.32 381.5,245.32 381.5,251.86 382,251.86 382,247.94 382.5,247.94 383,247.94 383.5,247.94 383.5,241.4 384,241.4 384,247.94 384.5,247.94 385,247.94 385.5,247.94 385.5,251.07 386,251.07 386,252.38 386.5,252.38 386.5,246.63 387,246.63 387.5,246.63 387.5,249.24 388,249.24 388.5,249.24 389,249.24 389.5,249.24 390,249.24 390.5,249.24 391,249.24 391,246.63 391.5,246.63 392,246.63 392.5,246.63 393,246.63 393.5,246.63 393.5,247.94 394,247.94 394,249.24 394.5,249.24 395,249.24 395,251.07 395.5,251.07 395.5,251.86 396,251.86 396,249.24 396.5,249.24 397,249.24 397,247.94 397.5,247.94 398,247.94 398.5,247.94 399,247.94 399.5,247.94 399.5,251.07 400,251.07 400.5,251.07 400.5,251.86 401,251.86 401,249.24 401.5,249.24 402,249.24 402.5,249.24 403,249.24 403,247.94 403.5,247.94 404,247.94 404.5,247.94 404.5,251.86 405,251.86 405.5,251.86 406,251.86 406,245.32 406.5,245.32 406.5,251.86 407,251.86 407.5,251.86 408,251.86 408,250.55 408.5,250.55 408.5,251.86 409,251.86 409.5,251.86 410,251.86 410.5,251.86 410.5,246.63 411,246.63 411.5,246.63 411.5,245.32 412,245.32 412,247.94 412.5,247.94 412.5,251.86 413,251.86 413,249.24 413.5,249.24 414,249.24 414.5,249.24 415,249.24 415,246.63 415.5,246.63 416,246.63 416.5,246.63 416.5,251.86 417,251.86 417,249.24 417.5,249.24 418,249.24 418.5,249.24 419,249.24 419.5,249.24 419.5,251.07 420,251.07 420,247.94 420.5,247.94 420.5,251.07 421,251.07 421,246.63 421.5,246.63 421.5,244.01 422,244.01 422,245.32 422.5,245.32 422.5,244.01 423,244.01 423.5,244.01 423.5,249.24 424,249.24 424.5,249.24 425,249.24 425.5,249.24 426,249.24 426.5,249.24 427,249.24 427.5,249.24 428,249.24 428.5,249.24 429,249.24 429.5,249.24 430,249.24 430,251.86 430.5,251.86 430.5,252.38 431,252.38 431.5,252.38 431.5,249.24 432,249.24 432.5,249.24 432.5,247.94 433,247.94 433,245.32 433.5,245.32 433.5,247.94 434,247.94 434.5,247.94 434.5,251.86 435,251.86 435.5,251.86 436,251.86 436,247.94 436.5,247.94 437,247.94 437,252.38 437.5,252.38 437.5,251.86 438,251.86 438.5,251.86 438.5,247.94 439,247.94 439.5,247.94 440,247.94 440.5,247.94 441,247.94 441.5,247.94 442,247.94 442,249.24 442.5,249.24 442.5,247.94 443,247.94 443.5,247.94 444,247.94 444,251.86 444.5,251.86 444.5,246.63 445,246.63 445.5,246.63 446,246.63 446.5,246.63 446.5,250.55 447,250.55 447,246.63 447.5,246.63 448,246.63 448,251.86 448.5,251.86 448.5,252.38 449,252.38 449,246.63 449.5,246.63 450,246.63 450.5,246.63 451,246.63 451,252.38 451.5,252.38 451.5,249.24 452,249.24 452,247.94 452.5,247.94 453,247.94 453.5,247.94 453.5,249.24 454,249.24 454.5,249.24 455,249.24 455.5,249.24 455.5,250.55 456,250.55 456,249.24 456.5,249.24 456.5,241.4 457,241.4 457,249.24 457.5,249.24 458,249.24 458,241.4 458.5,241.4 458.5,244.01 459,244.01 459,249.24 459.5,249.24 460,249.24 460,252.38 460.5,252.38 460.5,249.24 461,249.24 461,252.38 461.5,252.38 461.5,247.94 462,247.94 462,250.55 462.5,250.55 462.5,247.94 463,247.94 463.5,247.94 464,247.94 464.5,247.94 465,247.94 465,241.4 465.5,241.4 465.5,247.94 466,247.94 466.5,247.94 467,247.94 467.5,247.94 468,247.94 468.5,247.94 469,247.94 469.5,247.94 470,247.94 470,246.63 470.5,246.63 470.5,251.86 471,251.86 471,245.32 471.5,245.32 471.5,251.86 472,251.86 472.5,251.86 473,251.86 473.5,251.86 473.5,246.63 474,246.63 474.5,246.63 475,246.63 475.5,246.63 476,246.63 476,251.86 476.5,251.86 476.5,246.63 477,246.63 477.5,246.63 477.5,244.01 478,244.01 478,247.94 478.5,247.94 478.5,251.86 479,251.86 479,244.01 479.5,244.01 479.5,246.63 480,246.63 480,247.94 480.5,247.94 480.5,246.63 481,246.63 481,251.86 481.5,251.86 481.5,249.24 482,249.24 482.5,249.24 482.5,245.32 483,245.32 483,249.24 483.5,249.24 484,249.24 484,246.63 484.5,246.63 484.5,247.94 485,247.94 485,249.24 485.5,249.24 485.5,250.55 486,250.55 486,244.01 486.5,244.01 487,244.01 487,249.24 487.5,249.24 488,249.24 488,247.94 488.5,247.94 489,247.94 489,245.32 489.5,245.32 489.5,247.94 490,247.94 490,249.24 490.5,249.24 491,249.24 491,246.63 491.5,246.63 492,246.63 492.5,246.63 492.5,245.32 493,245.32 493,246.63 493.5,246.63 494,246.63 494,250.55 494.5,250.55 494.5,249.24 495,249.24 495,252.38 495.5,252.38 495.5,249.24 496,249.24 496,241.4 496.5,241.4 496.5,249.24 497,249.24 497.5,249.24 498,249.24 498,251.86 498.5,251.86 498.5,249.24 499,249.24 499.5,249.24 500,249.24 500.5,249.24 501,249.24 501.5,249.24 502,249.24 502.5,249.24 503,249.24 503,251.86 503.5,251.86 503.5,249.24 504,249.24 504.5,249.24 505,249.24 505.5,249.24 506,249.24 506.5,249.24 506.5,246.63 507,246.63 507,251.86 507.5,251.86 508,251.86 508.5,251.86 508.5,247.94 509,247.94 509.5,247.94 510,247.94 510.5,247.94 511,247.94 511.5,247.94 511.5,249.24 512,249.24 512.5,249.24 513,249.24 513.5,249.24 513.5,251.86 514,251.86 514,249.24 514.5,249.24 515,249.24 515.5,249.24 516,249.24 516.5,249.24 517,249.24 517.5,249.24 518,249.24 518,241.4 518.5,241.4 518.5,244.01 519,244.01 519.5,244.01 520,244.01 520,250.55 520.5,250.55 520.5,241.4 521,241.4 521,252.38 521.5,252.38 521.5,246.63 522,246.63 522.5,246.63 523,246.63 523.5,246.63 523.5,247.94 524,247.94 524,249.24 524.5,249.24 524.5,251.07 525,251.07 525,251.86 525.5,251.86 526,251.86 526.5,251.86 526.5,247.94 527,247.94 527.5,247.94 528,247.94 528.5,247.94 529,247.94 529.5,247.94 530,247.94 530.5,247.94 530.5,251.86 531,251.86 531,247.94 531.5,247.94 532,247.94 532.5,247.94 533,247.94 533.5,247.94 534,247.94 534.5,247.94 535,247.94 535,251.07 535.5,251.07 535.5,247.94 536,247.94 536,250.55 536.5,250.55 536.5,247.94 537,247.94 537,249.24 537.5,249.24 538,249.24 538.5,249.24 538.5,252.38 539,252.38 539,247.94 539.5,247.94 539.5,244.01 540,244.01 540,246.63 540.5,246.63 540.5,249.24 541,249.24 541.5,249.24 541.5,251.07 542,251.07 542,249.24 542.5,249.24 543,249.24 543,250.55 543.5,250.55 543.5,249.24 544,249.24 544.5,249.24 545,249.24 545.5,249.24 546,249.24 546.5,249.24 547,249.24 547.5,249.24 548,249.24 548.5,249.24 549,249.24 549.5,249.24 550,249.24 550.5,249.24 550.5,241.4 551,241.4 551,246.63 551.5,246.63 551.5,245.32 552,245.32 552,244.01 552.5,244.01 552.5,249.24 553,249.24 553.5,249.24 553.5,251.86 554,251.86 554,249.24 554.5,249.24 555,249.24 555.5,249.24 556,249.24 556.5,249.24 557,249.24 557.5,249.24 558,249.24 558,241.4 558.5,241.4 559,241.4 559,249.24 559.5,249.24 559.5,247.94 560,247.94 560.5,247.94 561,247.94 561.5,247.94 562,247.94 562.5,247.94 563,247.94 563.5,247.94 564,247.94 564.5,247.94 565,247.94 565.5,247.94 566,247.94 566.5,247.94 567,247.94 567.5,247.94 568,247.94 568.5,247.94 568.5,251.86 569,251.86 569,244.01 569.5,244.01 569.5,251.07 570,251.07 570,247.94 570.5,247.94 571,247.94 571.5,247.94 571.5,246.63 572,246.63 572.5,246.63 573,246.63 573.5,246.63 573.5,249.24 574,249.24 574.5,249.24 575,249.24 575.5,249.24 576,249.24 576,247.94 576.5,247.94 577,247.94 577.5,247.94 578,247.94 578.5,247.94 579,247.94 579.5,247.94 579.5,249.24 580,249.24 580.5,249.24 580.5,247.94 581,247.94 581,251.07 581.5,251.07 581.5,247.94 582,247.94 582.5,247.94 583,247.94 583.5,247.94 584,247.94 584.5,247.94 584.5,249.24 585,249.24 585.5,249.24 586,249.24 586.5,249.24 587,249.24 587.5,249.24 588,249.24 588.5,249.24 589,249.24 589.5,249.24 590,249.24 590.5,249.24 591,249.24 591.5,249.24 592,249.24 592.5,249.24 592.5,251.86 593,251.86 593,247.94 593.5,247.94 593.5,250.55 594,250.55 594,251.86 594.5,251.86 594.5,247.94 595,247.94 595,251.86 595.5,251.86 596,251.86 596.5,251.86 596.5,245.32 597,245.32 597,251.86 597.5,251.86 598,251.86 598,244.01 598.5,244.01 599,244.01 599.5,244.01 599.5,247.94 600,247.94 600,251.86 600.5,251.86 601,251.86 601.5,251.86 602,251.86 602.5,251.86 602.5,247.94 603,247.94 603.5,247.94 603.5,249.24 604,249.24 604.5,249.24 605,249.24 605.5,249.24 605.5,247.94 606,247.94 606.5,247.94 607,247.94 607.5,247.94 608,247.94 608.5,247.94 608.5,241.4 609,241.4 609,247.94 609.5,247.94 609.5,246.63 610,246.63 610.5,246.63 611,246.63 611,249.24 611.5,249.24 611.5,245.32 612,245.32 612,251.86 612.5,251.86 612.5,246.63 613,246.63 613.5,246.63 614,246.63 614,249.24 614.5,249.24 614.5,250.55 615,250.55 615,244.01 615.5,244.01 615.5,251.86 616,251.86 616,244.01 616.5,244.01 617,244.01 617.5,244.01 617.5,246.63 618,246.63 618,241.4 618.5,241.4 618.5,246.63 619,246.63 619.5,246.63 619.5,247.94 620,247.94 620,246.63 620.5,246.63 620.5,249.24 621,249.24 621.5,249.24 622,249.24 622,247.94 622.5,247.94 623,247.94 623.5,247.94 624,247.94 624.5,247.94 625,247.94 625.5,247.94 625.5,246.63 626,246.63 626,251.86 626.5,251.86 627,251.86 627.5,251.86 628,251.86 628.5,251.86 629,251.86 629.5,251.86 630,251.86 630,250.55 630.5,250.55 630.5,249.24 631,249.24 631,246.63 631.5,246.63 631.5,249.24 632,249.24 632.5,249.24 632.5,251.86 633,251.86 633,247.94 633.5,247.94 634,247.94 634.5,247.94 635,247.94 635.5,247.94 635.5,251.86 636,251.86 636,250.55 636.5,250.55 636.5,251.86 637,251.86 637.5,251.86 638,251.86 638.5,251.86 638.5,241.4 639,241.4 639,251.86 639.5,251.86 640,251.86 640,247.94 640.5,247.94 641,247.94 641.5,247.94 642,247.94 642.5,247.94 643,247.94 643,241.4 643.5,241.4 643.5,246.63 644,246.63 644,249.24 644.5,249.24 645,249.24 645.5,249.24 646,249.24 646.5,249.24 647,249.24 647.5,249.24 647.5,251.07 648,251.07 648,247.94 648.5,247.94 648.5,249.24 649,249.24 649,246.63 649.5,246.63 650,246.63 650.5,246.63 650.5,250.55 651,250.55 651,246.63 651.5,246.63 652,246.63 652.5,246.63 653,246.63 653.5,246.63 653.5,249.24 654,249.24 654.5,249.24 654.5,245.32 655,245.32 655,249.24 655.5,249.24 656,249.24 656.5,249.24 656.5,250.55 657,250.55 657,251.86 657.5,251.86 657.5,246.63 658,246.63 658.5,246.63 659,246.63 659.5,246.63 660,246.63 660,251.86 660.5,251.86 661,251.86 661.5,251.86 662,251.86 662.5,251.86 662.5,245.32 663,245.32 663,249.24 663.5,249.24 664,249.24 664.5,249.24 665,249.24 665.5,249.24 666,249.24 666.5,249.24 666.5,251.86 667,251.86 667,245.32 667.5,245.32 667.5,247.94 668,247.94 668.5,247.94 669,247.94 669.5,247.94 670,247.94 670.5,247.94 671,247.94 671,249.24 671.5,249.24 672,249.24 672.5,249.24 673,249.24 673.5,249.24 674,249.24 674.5,249.24 675,249.24 675.5,249.24 676,249.24 676,251.07 676.5,251.07 676.5,247.94 677,247.94 677,241.4 677.5,241.4 677.5,247.94 678,247.94 678.5,247.94 679,247.94 679.5,247.94 679.5,252.38 680,252.38 680,247.94 680.5,247.94 681,247.94 681.5,247.94 681.5,244.01 682,244.01 682,247.94 682.5,247.94 683,247.94 683.5,247.94 684,247.94 684,251.86 684.5,251.86" fill="none" stroke="#c25cdc" stroke-width="0.72"/>
<line x1="169.8" y1="247.94" x2="169.8" y2="225.71" stroke="#bd60d8" stroke-width="0.9"/>
<line x1="193.8" y1="247.94" x2="193.8" y2="217.87" stroke="#bd60d8" stroke-width="0.9"/>
<line x1="250.4" y1="247.94" x2="250.4" y2="225.71" stroke="#bd60d8" stroke-width="0.9"/>
<line x1="390.6" y1="247.94" x2="390.6" y2="225.71" stroke="#bd60d8" stroke-width="0.9"/>
<line x1="467.6" y1="247.94" x2="467.6" y2="220.49" stroke="#bd60d8" stroke-width="0.9"/>
<line x1="516.8" y1="247.94" x2="516.8" y2="217.87" stroke="#bd60d8" stroke-width="0.9"/>
<line x1="537.2" y1="247.94" x2="537.2" y2="216.56" stroke="#bd60d8" stroke-width="0.9"/>
<line x1="612.6" y1="247.94" x2="612.6" y2="208.72" stroke="#bd60d8" stroke-width="0.9"/>
<line x1="667.6" y1="247.94" x2="667.6" y2="228.33" stroke="#bd60d8" stroke-width="0.9"/>
</g>
<g id="bat">
<polyline points="166.5,353.34 466.9,353.34 467.4,364.91 684.5,364.91" fill="none" stroke="#56c876" stroke-width="1.6"/>
</g>
<line x1="343.8" y1="62.0" x2="343.8" y2="154.2" stroke="#9696aa" stroke-width="1.3"/>
<line x1="684.2" y1="62.0" x2="684.2" y2="154.2" stroke="#a2a5c8" stroke-width="1.5"/>
<line x1="166.5" y1="62.0" x2="166.5" y2="154.7" stroke="#434a9a" stroke-width="1.15"/>
<line x1="165.9" y1="154.3" x2="684.9" y2="154.3" stroke="#7482d0" stroke-width="0.85"/>
<line x1="163.1" y1="62" x2="166.5" y2="62" stroke="#6068b0" stroke-width="0.75"/>
<text transform="translate(161.2,63.75) rotate(0.05) scale(0.98,1.2)" font-size="5.0" fill="#474e7c" text-anchor="end" font-family="Liberation Serif, Noto Serif CJK SC, serif">75</text>
<line x1="164.3" y1="68.15" x2="166.5" y2="68.15" stroke="#6a72b8" stroke-width="0.6"/>
<line x1="164.3" y1="74.29" x2="166.5" y2="74.29" stroke="#6a72b8" stroke-width="0.6"/>
<line x1="163.1" y1="80.44" x2="166.5" y2="80.44" stroke="#6068b0" stroke-width="0.75"/>
<text transform="translate(161.2,82.19) rotate(0.05) scale(0.98,1.2)" font-size="5.0" fill="#474e7c" text-anchor="end" font-family="Liberation Serif, Noto Serif CJK SC, serif">60</text>
<line x1="164.3" y1="86.59" x2="166.5" y2="86.59" stroke="#6a72b8" stroke-width="0.6"/>
<line x1="164.3" y1="92.73" x2="166.5" y2="92.73" stroke="#6a72b8" stroke-width="0.6"/>
<line x1="163.1" y1="98.88" x2="166.5" y2="98.88" stroke="#6068b0" stroke-width="0.75"/>
<text transform="translate(161.2,100.63) rotate(0.05) scale(0.98,1.2)" font-size="5.0" fill="#474e7c" text-anchor="end" font-family="Liberation Serif, Noto Serif CJK SC, serif">45</text>
<line x1="164.3" y1="105.03" x2="166.5" y2="105.03" stroke="#6a72b8" stroke-width="0.6"/>
<line x1="164.3" y1="111.17" x2="166.5" y2="111.17" stroke="#6a72b8" stroke-width="0.6"/>
<line x1="163.1" y1="117.32" x2="166.5" y2="117.32" stroke="#6068b0" stroke-width="0.75"/>
<text transform="translate(161.2,119.07) rotate(0.05) scale(0.98,1.2)" font-size="5.0" fill="#474e7c" text-anchor="end" font-family="Liberation Serif, Noto Serif CJK SC, serif">30</text>
<line x1="164.3" y1="123.47" x2="166.5" y2="123.47" stroke="#6a72b8" stroke-width="0.6"/>
<line x1="164.3" y1="129.61" x2="166.5" y2="129.61" stroke="#6a72b8" stroke-width="0.6"/>
<line x1="163.1" y1="135.76" x2="166.5" y2="135.76" stroke="#6068b0" stroke-width="0.75"/>
<text transform="translate(161.2,137.51) rotate(0.05) scale(0.98,1.2)" font-size="5.0" fill="#474e7c" text-anchor="end" font-family="Liberation Serif, Noto Serif CJK SC, serif">15</text>
<line x1="164.3" y1="141.91" x2="166.5" y2="141.91" stroke="#6a72b8" stroke-width="0.6"/>
<line x1="164.3" y1="148.05" x2="166.5" y2="148.05" stroke="#6a72b8" stroke-width="0.6"/>
<line x1="163.1" y1="154.2" x2="166.5" y2="154.2" stroke="#6068b0" stroke-width="0.75"/>
<text transform="translate(161.2,155.95) rotate(0.05) scale(0.98,1.2)" font-size="5.0" fill="#474e7c" text-anchor="end" font-family="Liberation Serif, Noto Serif CJK SC, serif">0</text>
<line x1="166.5" y1="154.2" x2="166.5" y2="157.2" stroke="#6068b0" stroke-width="0.75"/>
<text transform="translate(166.77,163.6) rotate(0.05) scale(1,1.2)" font-size="5.2" fill="#474e7c" text-anchor="middle" font-family="Liberation Serif, Noto Serif CJK SC, serif" letter-spacing="0.6">00:00</text>
<line x1="192.4" y1="154.2" x2="192.4" y2="156.4" stroke="#6a72b8" stroke-width="0.6"/>
<line x1="218.3" y1="154.2" x2="218.3" y2="157.2" stroke="#6068b0" stroke-width="0.75"/>
<text transform="translate(218.57,163.6) rotate(0.05) scale(1,1.2)" font-size="5.2" fill="#474e7c" text-anchor="middle" font-family="Liberation Serif, Noto Serif CJK SC, serif" letter-spacing="0.6">01:36</text>
<line x1="244.2" y1="154.2" x2="244.2" y2="156.4" stroke="#6a72b8" stroke-width="0.6"/>
<line x1="270.1" y1="154.2" x2="270.1" y2="157.2" stroke="#6068b0" stroke-width="0.75"/>
<text transform="translate(270.37,163.6) rotate(0.05) scale(1,1.2)" font-size="5.2" fill="#474e7c" text-anchor="middle" font-family="Liberation Serif, Noto Serif CJK SC, serif" letter-spacing="0.6">03:12</text>
<line x1="296" y1="154.2" x2="296" y2="156.4" stroke="#6a72b8" stroke-width="0.6"/>
<line x1="321.9" y1="154.2" x2="321.9" y2="157.2" stroke="#6068b0" stroke-width="0.75"/>
<text transform="translate(322.17,163.6) rotate(0.05) scale(1,1.2)" font-size="5.2" fill="#474e7c" text-anchor="middle" font-family="Liberation Serif, Noto Serif CJK SC, serif" letter-spacing="0.6">04:48</text>
<line x1="347.8" y1="154.2" x2="347.8" y2="156.4" stroke="#6a72b8" stroke-width="0.6"/>
<line x1="373.7" y1="154.2" x2="373.7" y2="157.2" stroke="#6068b0" stroke-width="0.75"/>
<text transform="translate(373.97,163.6) rotate(0.05) scale(1,1.2)" font-size="5.2" fill="#474e7c" text-anchor="middle" font-family="Liberation Serif, Noto Serif CJK SC, serif" letter-spacing="0.6">06:24</text>
<line x1="399.6" y1="154.2" x2="399.6" y2="156.4" stroke="#6a72b8" stroke-width="0.6"/>
<line x1="425.5" y1="154.2" x2="425.5" y2="157.2" stroke="#6068b0" stroke-width="0.75"/>
<text transform="translate(425.77,163.6) rotate(0.05) scale(1,1.2)" font-size="5.2" fill="#474e7c" text-anchor="middle" font-family="Liberation Serif, Noto Serif CJK SC, serif" letter-spacing="0.6">08:00</text>
<line x1="451.4" y1="154.2" x2="451.4" y2="156.4" stroke="#6a72b8" stroke-width="0.6"/>
<line x1="477.3" y1="154.2" x2="477.3" y2="157.2" stroke="#6068b0" stroke-width="0.75"/>
<text transform="translate(477.57,163.6) rotate(0.05) scale(1,1.2)" font-size="5.2" fill="#474e7c" text-anchor="middle" font-family="Liberation Serif, Noto Serif CJK SC, serif" letter-spacing="0.6">09:35</text>
<line x1="503.2" y1="154.2" x2="503.2" y2="156.4" stroke="#6a72b8" stroke-width="0.6"/>
<line x1="529.1" y1="154.2" x2="529.1" y2="157.2" stroke="#6068b0" stroke-width="0.75"/>
<text transform="translate(529.37,163.6) rotate(0.05) scale(1,1.2)" font-size="5.2" fill="#474e7c" text-anchor="middle" font-family="Liberation Serif, Noto Serif CJK SC, serif" letter-spacing="0.6">11:11</text>
<line x1="555" y1="154.2" x2="555" y2="156.4" stroke="#6a72b8" stroke-width="0.6"/>
<line x1="580.9" y1="154.2" x2="580.9" y2="157.2" stroke="#6068b0" stroke-width="0.75"/>
<text transform="translate(581.17,163.6) rotate(0.05) scale(1,1.2)" font-size="5.2" fill="#474e7c" text-anchor="middle" font-family="Liberation Serif, Noto Serif CJK SC, serif" letter-spacing="0.6">12:47</text>
<line x1="606.8" y1="154.2" x2="606.8" y2="156.4" stroke="#6a72b8" stroke-width="0.6"/>
<line x1="632.7" y1="154.2" x2="632.7" y2="157.2" stroke="#6068b0" stroke-width="0.75"/>
<text transform="translate(632.97,163.6) rotate(0.05) scale(1,1.2)" font-size="5.2" fill="#474e7c" text-anchor="middle" font-family="Liberation Serif, Noto Serif CJK SC, serif" letter-spacing="0.6">14:23</text>
<line x1="658.6" y1="154.2" x2="658.6" y2="156.4" stroke="#6a72b8" stroke-width="0.6"/>
<line x1="684.5" y1="154.2" x2="684.5" y2="157.2" stroke="#6068b0" stroke-width="0.75"/>
<text transform="translate(684.77,163.6) rotate(0.05) scale(1,1.2)" font-size="5.2" fill="#474e7c" text-anchor="middle" font-family="Liberation Serif, Noto Serif CJK SC, serif" letter-spacing="0.6">15:59</text>
<text transform="translate(429,54.4) rotate(0.05) scale(1,1.06)" font-size="6.8" fill="#5c629e" text-anchor="middle" font-weight="bold">FPS</text>
<text transform="translate(147.1,108.1) rotate(-89.95) scale(1,1.2)" font-size="6.1" fill="#434a98" text-anchor="middle" font-weight="bold">FPS</text>
<line x1="343.8" y1="186.5" x2="343.8" y2="278.0" stroke="#9696aa" stroke-width="1.3"/>
<line x1="684.2" y1="186.5" x2="684.2" y2="278.0" stroke="#a2a5c8" stroke-width="1.5"/>
<line x1="166.5" y1="186.5" x2="166.5" y2="278.5" stroke="#434a9a" stroke-width="1.15"/>
<line x1="165.9" y1="278.1" x2="684.9" y2="278.1" stroke="#7482d0" stroke-width="0.85"/>
<line x1="163.1" y1="186.5" x2="166.5" y2="186.5" stroke="#6068b0" stroke-width="0.75"/>
<text transform="translate(161.2,188.25) rotate(0.05) scale(0.98,1.2)" font-size="5.0" fill="#474e7c" text-anchor="end" font-family="Liberation Serif, Noto Serif CJK SC, serif">3500</text>
<line x1="164.3" y1="195.65" x2="166.5" y2="195.65" stroke="#6a72b8" stroke-width="0.6"/>
<line x1="163.1" y1="204.8" x2="166.5" y2="204.8" stroke="#6068b0" stroke-width="0.75"/>
<text transform="translate(161.2,206.55) rotate(0.05) scale(0.98,1.2)" font-size="5.0" fill="#474e7c" text-anchor="end" font-family="Liberation Serif, Noto Serif CJK SC, serif">2800</text>
<line x1="164.3" y1="213.95" x2="166.5" y2="213.95" stroke="#6a72b8" stroke-width="0.6"/>
<line x1="163.1" y1="223.1" x2="166.5" y2="223.1" stroke="#6068b0" stroke-width="0.75"/>
<text transform="translate(161.2,224.85) rotate(0.05) scale(0.98,1.2)" font-size="5.0" fill="#474e7c" text-anchor="end" font-family="Liberation Serif, Noto Serif CJK SC, serif">2100</text>
<line x1="164.3" y1="232.25" x2="166.5" y2="232.25" stroke="#6a72b8" stroke-width="0.6"/>
<line x1="163.1" y1="241.4" x2="166.5" y2="241.4" stroke="#6068b0" stroke-width="0.75"/>
<text transform="translate(161.2,243.15) rotate(0.05) scale(0.98,1.2)" font-size="5.0" fill="#474e7c" text-anchor="end" font-family="Liberation Serif, Noto Serif CJK SC, serif">1400</text>
<line x1="164.3" y1="250.55" x2="166.5" y2="250.55" stroke="#6a72b8" stroke-width="0.6"/>
<line x1="163.1" y1="259.7" x2="166.5" y2="259.7" stroke="#6068b0" stroke-width="0.75"/>
<text transform="translate(161.2,261.45) rotate(0.05) scale(0.98,1.2)" font-size="5.0" fill="#474e7c" text-anchor="end" font-family="Liberation Serif, Noto Serif CJK SC, serif">700</text>
<line x1="164.3" y1="268.85" x2="166.5" y2="268.85" stroke="#6a72b8" stroke-width="0.6"/>
<line x1="163.1" y1="278" x2="166.5" y2="278" stroke="#6068b0" stroke-width="0.75"/>
<text transform="translate(161.2,279.75) rotate(0.05) scale(0.98,1.2)" font-size="5.0" fill="#474e7c" text-anchor="end" font-family="Liberation Serif, Noto Serif CJK SC, serif">0</text>
<line x1="166.5" y1="278.0" x2="166.5" y2="281" stroke="#6068b0" stroke-width="0.75"/>
<text transform="translate(166.77,287.4) rotate(0.05) scale(1,1.2)" font-size="5.2" fill="#474e7c" text-anchor="middle" font-family="Liberation Serif, Noto Serif CJK SC, serif" letter-spacing="0.6">00:00</text>
<line x1="192.4" y1="278.0" x2="192.4" y2="280.2" stroke="#6a72b8" stroke-width="0.6"/>
<line x1="218.3" y1="278.0" x2="218.3" y2="281" stroke="#6068b0" stroke-width="0.75"/>
<text transform="translate(218.57,287.4) rotate(0.05) scale(1,1.2)" font-size="5.2" fill="#474e7c" text-anchor="middle" font-family="Liberation Serif, Noto Serif CJK SC, serif" letter-spacing="0.6">01:36</text>
<line x1="244.2" y1="278.0" x2="244.2" y2="280.2" stroke="#6a72b8" stroke-width="0.6"/>
<line x1="270.1" y1="278.0" x2="270.1" y2="281" stroke="#6068b0" stroke-width="0.75"/>
<text transform="translate(270.37,287.4) rotate(0.05) scale(1,1.2)" font-size="5.2" fill="#474e7c" text-anchor="middle" font-family="Liberation Serif, Noto Serif CJK SC, serif" letter-spacing="0.6">03:12</text>
<line x1="296" y1="278.0" x2="296" y2="280.2" stroke="#6a72b8" stroke-width="0.6"/>
<line x1="321.9" y1="278.0" x2="321.9" y2="281" stroke="#6068b0" stroke-width="0.75"/>
<text transform="translate(322.17,287.4) rotate(0.05) scale(1,1.2)" font-size="5.2" fill="#474e7c" text-anchor="middle" font-family="Liberation Serif, Noto Serif CJK SC, serif" letter-spacing="0.6">04:48</text>
<line x1="347.8" y1="278.0" x2="347.8" y2="280.2" stroke="#6a72b8" stroke-width="0.6"/>
<line x1="373.7" y1="278.0" x2="373.7" y2="281" stroke="#6068b0" stroke-width="0.75"/>
<text transform="translate(373.97,287.4) rotate(0.05) scale(1,1.2)" font-size="5.2" fill="#474e7c" text-anchor="middle" font-family="Liberation Serif, Noto Serif CJK SC, serif" letter-spacing="0.6">06:24</text>
<line x1="399.6" y1="278.0" x2="399.6" y2="280.2" stroke="#6a72b8" stroke-width="0.6"/>
<line x1="425.5" y1="278.0" x2="425.5" y2="281" stroke="#6068b0" stroke-width="0.75"/>
<text transform="translate(425.77,287.4) rotate(0.05) scale(1,1.2)" font-size="5.2" fill="#474e7c" text-anchor="middle" font-family="Liberation Serif, Noto Serif CJK SC, serif" letter-spacing="0.6">08:00</text>
<line x1="451.4" y1="278.0" x2="451.4" y2="280.2" stroke="#6a72b8" stroke-width="0.6"/>
<line x1="477.3" y1="278.0" x2="477.3" y2="281" stroke="#6068b0" stroke-width="0.75"/>
<text transform="translate(477.57,287.4) rotate(0.05) scale(1,1.2)" font-size="5.2" fill="#474e7c" text-anchor="middle" font-family="Liberation Serif, Noto Serif CJK SC, serif" letter-spacing="0.6">09:35</text>
<line x1="503.2" y1="278.0" x2="503.2" y2="280.2" stroke="#6a72b8" stroke-width="0.6"/>
<line x1="529.1" y1="278.0" x2="529.1" y2="281" stroke="#6068b0" stroke-width="0.75"/>
<text transform="translate(529.37,287.4) rotate(0.05) scale(1,1.2)" font-size="5.2" fill="#474e7c" text-anchor="middle" font-family="Liberation Serif, Noto Serif CJK SC, serif" letter-spacing="0.6">11:11</text>
<line x1="555" y1="278.0" x2="555" y2="280.2" stroke="#6a72b8" stroke-width="0.6"/>
<line x1="580.9" y1="278.0" x2="580.9" y2="281" stroke="#6068b0" stroke-width="0.75"/>
<text transform="translate(581.17,287.4) rotate(0.05) scale(1,1.2)" font-size="5.2" fill="#474e7c" text-anchor="middle" font-family="Liberation Serif, Noto Serif CJK SC, serif" letter-spacing="0.6">12:47</text>
<line x1="606.8" y1="278.0" x2="606.8" y2="280.2" stroke="#6a72b8" stroke-width="0.6"/>
<line x1="632.7" y1="278.0" x2="632.7" y2="281" stroke="#6068b0" stroke-width="0.75"/>
<text transform="translate(632.97,287.4) rotate(0.05) scale(1,1.2)" font-size="5.2" fill="#474e7c" text-anchor="middle" font-family="Liberation Serif, Noto Serif CJK SC, serif" letter-spacing="0.6">14:23</text>
<line x1="658.6" y1="278.0" x2="658.6" y2="280.2" stroke="#6a72b8" stroke-width="0.6"/>
<line x1="684.5" y1="278.0" x2="684.5" y2="281" stroke="#6068b0" stroke-width="0.75"/>
<text transform="translate(684.77,287.4) rotate(0.05) scale(1,1.2)" font-size="5.2" fill="#474e7c" text-anchor="middle" font-family="Liberation Serif, Noto Serif CJK SC, serif" letter-spacing="0.6">15:59</text>
<text transform="translate(429,178.9) rotate(0.05) scale(1,1.06)" font-size="6.8" fill="#5c629e" text-anchor="middle" font-weight="bold">CPU Clock</text>
<text transform="translate(147.1,232.25) rotate(-89.95) scale(1,1.2)" font-size="6.1" fill="#434a98" text-anchor="middle" font-weight="bold">MHz</text>
<line x1="343.8" y1="310.5" x2="343.8" y2="401.8" stroke="#9696aa" stroke-width="1.3"/>
<line x1="684.2" y1="310.5" x2="684.2" y2="401.8" stroke="#a2a5c8" stroke-width="1.5"/>
<line x1="166.5" y1="310.5" x2="166.5" y2="402.3" stroke="#434a9a" stroke-width="1.15"/>
<line x1="165.9" y1="401.9" x2="684.9" y2="401.9" stroke="#7482d0" stroke-width="0.85"/>
<line x1="163.1" y1="310.5" x2="166.5" y2="310.5" stroke="#6068b0" stroke-width="0.75"/>
<text transform="translate(161.2,312.25) rotate(0.05) scale(0.98,1.2)" font-size="5.0" fill="#474e7c" text-anchor="end" font-family="Liberation Serif, Noto Serif CJK SC, serif">7500</text>
<line x1="164.3" y1="316.59" x2="166.5" y2="316.59" stroke="#6a72b8" stroke-width="0.6"/>
<line x1="164.3" y1="322.67" x2="166.5" y2="322.67" stroke="#6a72b8" stroke-width="0.6"/>
<line x1="163.1" y1="328.76" x2="166.5" y2="328.76" stroke="#6068b0" stroke-width="0.75"/>
<text transform="translate(161.2,330.51) rotate(0.05) scale(0.98,1.2)" font-size="5.0" fill="#474e7c" text-anchor="end" font-family="Liberation Serif, Noto Serif CJK SC, serif">6000</text>
<line x1="164.3" y1="334.85" x2="166.5" y2="334.85" stroke="#6a72b8" stroke-width="0.6"/>
<line x1="164.3" y1="340.93" x2="166.5" y2="340.93" stroke="#6a72b8" stroke-width="0.6"/>
<line x1="163.1" y1="347.02" x2="166.5" y2="347.02" stroke="#6068b0" stroke-width="0.75"/>
<text transform="translate(161.2,348.77) rotate(0.05) scale(0.98,1.2)" font-size="5.0" fill="#474e7c" text-anchor="end" font-family="Liberation Serif, Noto Serif CJK SC, serif">4500</text>
<line x1="164.3" y1="353.11" x2="166.5" y2="353.11" stroke="#6a72b8" stroke-width="0.6"/>
<line x1="164.3" y1="359.19" x2="166.5" y2="359.19" stroke="#6a72b8" stroke-width="0.6"/>
<line x1="163.1" y1="365.28" x2="166.5" y2="365.28" stroke="#6068b0" stroke-width="0.75"/>
<text transform="translate(161.2,367.03) rotate(0.05) scale(0.98,1.2)" font-size="5.0" fill="#474e7c" text-anchor="end" font-family="Liberation Serif, Noto Serif CJK SC, serif">3000</text>
<line x1="164.3" y1="371.37" x2="166.5" y2="371.37" stroke="#6a72b8" stroke-width="0.6"/>
<line x1="164.3" y1="377.45" x2="166.5" y2="377.45" stroke="#6a72b8" stroke-width="0.6"/>
<line x1="163.1" y1="383.54" x2="166.5" y2="383.54" stroke="#6068b0" stroke-width="0.75"/>
<text transform="translate(161.2,385.29) rotate(0.05) scale(0.98,1.2)" font-size="5.0" fill="#474e7c" text-anchor="end" font-family="Liberation Serif, Noto Serif CJK SC, serif">1500</text>
<line x1="164.3" y1="389.63" x2="166.5" y2="389.63" stroke="#6a72b8" stroke-width="0.6"/>
<line x1="164.3" y1="395.71" x2="166.5" y2="395.71" stroke="#6a72b8" stroke-width="0.6"/>
<line x1="163.1" y1="401.8" x2="166.5" y2="401.8" stroke="#6068b0" stroke-width="0.75"/>
<text transform="translate(161.2,403.55) rotate(0.05) scale(0.98,1.2)" font-size="5.0" fill="#474e7c" text-anchor="end" font-family="Liberation Serif, Noto Serif CJK SC, serif">0</text>
<line x1="166.5" y1="401.8" x2="166.5" y2="404.8" stroke="#6068b0" stroke-width="0.75"/>
<text transform="translate(166.77,411.2) rotate(0.05) scale(1,1.2)" font-size="5.2" fill="#474e7c" text-anchor="middle" font-family="Liberation Serif, Noto Serif CJK SC, serif" letter-spacing="0.6">00:00</text>
<line x1="192.4" y1="401.8" x2="192.4" y2="404" stroke="#6a72b8" stroke-width="0.6"/>
<line x1="218.3" y1="401.8" x2="218.3" y2="404.8" stroke="#6068b0" stroke-width="0.75"/>
<text transform="translate(218.57,411.2) rotate(0.05) scale(1,1.2)" font-size="5.2" fill="#474e7c" text-anchor="middle" font-family="Liberation Serif, Noto Serif CJK SC, serif" letter-spacing="0.6">01:36</text>
<line x1="244.2" y1="401.8" x2="244.2" y2="404" stroke="#6a72b8" stroke-width="0.6"/>
<line x1="270.1" y1="401.8" x2="270.1" y2="404.8" stroke="#6068b0" stroke-width="0.75"/>
<text transform="translate(270.37,411.2) rotate(0.05) scale(1,1.2)" font-size="5.2" fill="#474e7c" text-anchor="middle" font-family="Liberation Serif, Noto Serif CJK SC, serif" letter-spacing="0.6">03:12</text>
<line x1="296" y1="401.8" x2="296" y2="404" stroke="#6a72b8" stroke-width="0.6"/>
<line x1="321.9" y1="401.8" x2="321.9" y2="404.8" stroke="#6068b0" stroke-width="0.75"/>
<text transform="translate(322.17,411.2) rotate(0.05) scale(1,1.2)" font-size="5.2" fill="#474e7c" text-anchor="middle" font-family="Liberation Serif, Noto Serif CJK SC, serif" letter-spacing="0.6">04:48</text>
<line x1="347.8" y1="401.8" x2="347.8" y2="404" stroke="#6a72b8" stroke-width="0.6"/>
<line x1="373.7" y1="401.8" x2="373.7" y2="404.8" stroke="#6068b0" stroke-width="0.75"/>
<text transform="translate(373.97,411.2) rotate(0.05) scale(1,1.2)" font-size="5.2" fill="#474e7c" text-anchor="middle" font-family="Liberation Serif, Noto Serif CJK SC, serif" letter-spacing="0.6">06:24</text>
<line x1="399.6" y1="401.8" x2="399.6" y2="404" stroke="#6a72b8" stroke-width="0.6"/>
<line x1="425.5" y1="401.8" x2="425.5" y2="404.8" stroke="#6068b0" stroke-width="0.75"/>
<text transform="translate(425.77,411.2) rotate(0.05) scale(1,1.2)" font-size="5.2" fill="#474e7c" text-anchor="middle" font-family="Liberation Serif, Noto Serif CJK SC, serif" letter-spacing="0.6">08:00</text>
<line x1="451.4" y1="401.8" x2="451.4" y2="404" stroke="#6a72b8" stroke-width="0.6"/>
<line x1="477.3" y1="401.8" x2="477.3" y2="404.8" stroke="#6068b0" stroke-width="0.75"/>
<text transform="translate(477.57,411.2) rotate(0.05) scale(1,1.2)" font-size="5.2" fill="#474e7c" text-anchor="middle" font-family="Liberation Serif, Noto Serif CJK SC, serif" letter-spacing="0.6">09:35</text>
<line x1="503.2" y1="401.8" x2="503.2" y2="404" stroke="#6a72b8" stroke-width="0.6"/>
<line x1="529.1" y1="401.8" x2="529.1" y2="404.8" stroke="#6068b0" stroke-width="0.75"/>
<text transform="translate(529.37,411.2) rotate(0.05) scale(1,1.2)" font-size="5.2" fill="#474e7c" text-anchor="middle" font-family="Liberation Serif, Noto Serif CJK SC, serif" letter-spacing="0.6">11:11</text>
<line x1="555" y1="401.8" x2="555" y2="404" stroke="#6a72b8" stroke-width="0.6"/>
<line x1="580.9" y1="401.8" x2="580.9" y2="404.8" stroke="#6068b0" stroke-width="0.75"/>
<text transform="translate(581.17,411.2) rotate(0.05) scale(1,1.2)" font-size="5.2" fill="#474e7c" text-anchor="middle" font-family="Liberation Serif, Noto Serif CJK SC, serif" letter-spacing="0.6">12:47</text>
<line x1="606.8" y1="401.8" x2="606.8" y2="404" stroke="#6a72b8" stroke-width="0.6"/>
<line x1="632.7" y1="401.8" x2="632.7" y2="404.8" stroke="#6068b0" stroke-width="0.75"/>
<text transform="translate(632.97,411.2) rotate(0.05) scale(1,1.2)" font-size="5.2" fill="#474e7c" text-anchor="middle" font-family="Liberation Serif, Noto Serif CJK SC, serif" letter-spacing="0.6">14:23</text>
<line x1="658.6" y1="401.8" x2="658.6" y2="404" stroke="#6a72b8" stroke-width="0.6"/>
<line x1="684.5" y1="401.8" x2="684.5" y2="404.8" stroke="#6068b0" stroke-width="0.75"/>
<text transform="translate(684.77,411.2) rotate(0.05) scale(1,1.2)" font-size="5.2" fill="#474e7c" text-anchor="middle" font-family="Liberation Serif, Noto Serif CJK SC, serif" letter-spacing="0.6">15:59</text>
<text transform="translate(429,302.9) rotate(0.05) scale(1,1.06)" font-size="6.8" fill="#5c629e" text-anchor="middle" font-weight="bold">Battery</text>
<rect x="694.9" y="70.6" width="3.6" height="3.6" fill="#e0405c"/>
<text transform="translate(702,74.1) rotate(0.05) scale(1,1.2)" font-size="4.3" fill="#484c72">FPS</text>
<text transform="translate(702,80.6) rotate(0.05) scale(1,1.2)" font-size="4.3" fill="#b0b6d0">42.91</text>
<rect x="694.9" y="194.5" width="3.6" height="3.6" fill="#10c020"/>
<text transform="translate(702,198) rotate(0.05) scale(1,1.2)" font-size="4.3" fill="#484c72">cpu 0-3</text>
<rect x="694.9" y="205.8" width="3.6" height="3.6" fill="#d6a020"/>
<text transform="translate(702,209.3) rotate(0.05) scale(1,1.2)" font-size="4.3" fill="#484c72">cpu 4-6</text>
<rect x="694.9" y="217.1" width="3.6" height="3.6" fill="#c050e0"/>
<text transform="translate(702,220.6) rotate(0.05) scale(1,1.2)" font-size="4.3" fill="#484c72">cpu 7</text>
<rect x="694.9" y="318.4" width="3.6" height="3.6" fill="#c010a0"/>
<text transform="translate(702,321.9) rotate(0.05) scale(1,1.2)" font-size="4.3" fill="#484c72">current</text>
<rect x="694.9" y="329.7" width="3.6" height="3.6" fill="#10c830"/>
<text transform="translate(702,333.2) rotate(0.05) scale(1,1.2)" font-size="4.3" fill="#484c72">voltage</text>
<rect x="694.9" y="341" width="3.6" height="3.6" fill="#d6a020"/>
<text transform="translate(702,344.5) rotate(0.05) scale(1,1.2)" font-size="4.3" fill="#484c72">power</text>
<line x1="166" y1="429.4" x2="685" y2="429.4" stroke="#6e7cd4" stroke-width="1.8"/>
<rect x="161" y="426.4" width="11" height="6.8" rx="2.4" fill="#808080"/>
<rect x="679.5" y="426.4" width="11" height="6.8" rx="2.4" fill="#808080"/>
</g>
<!-- watermark -->
<g fill="#000" fill-opacity="0.215" font-family="Liberation Sans, Noto Sans CJK SC, sans-serif">
<g fill="none" stroke="#000" stroke-opacity="0.215" stroke-width="3.2"><path d="M652.8 427 A19.8 19.8 0 0 1 675 402.6"/><path d="M659.3 425 A13.4 13.4 0 0 1 671.6 408.8"/><path d="M665.6 423.4 A7 7 0 0 1 670 415"/></g>
<text transform="translate(669.2,430.6) scale(0.98,1.28)" font-size="22.5" font-weight="bold">易</text>
<text transform="translate(692.2,430.4) scale(1,1.06)" font-size="29.6" font-weight="500">生活</text>
<rect x="650.3" y="436.2" width="100" height="11"/>
</g>
<text x="650" y="445.5" font-size="9.2" fill="#fff" fill-opacity="0.6" letter-spacing="3" font-family="Liberation Sans, sans-serif">www.3elife.net</text>
</svg>
</body>
</html>
